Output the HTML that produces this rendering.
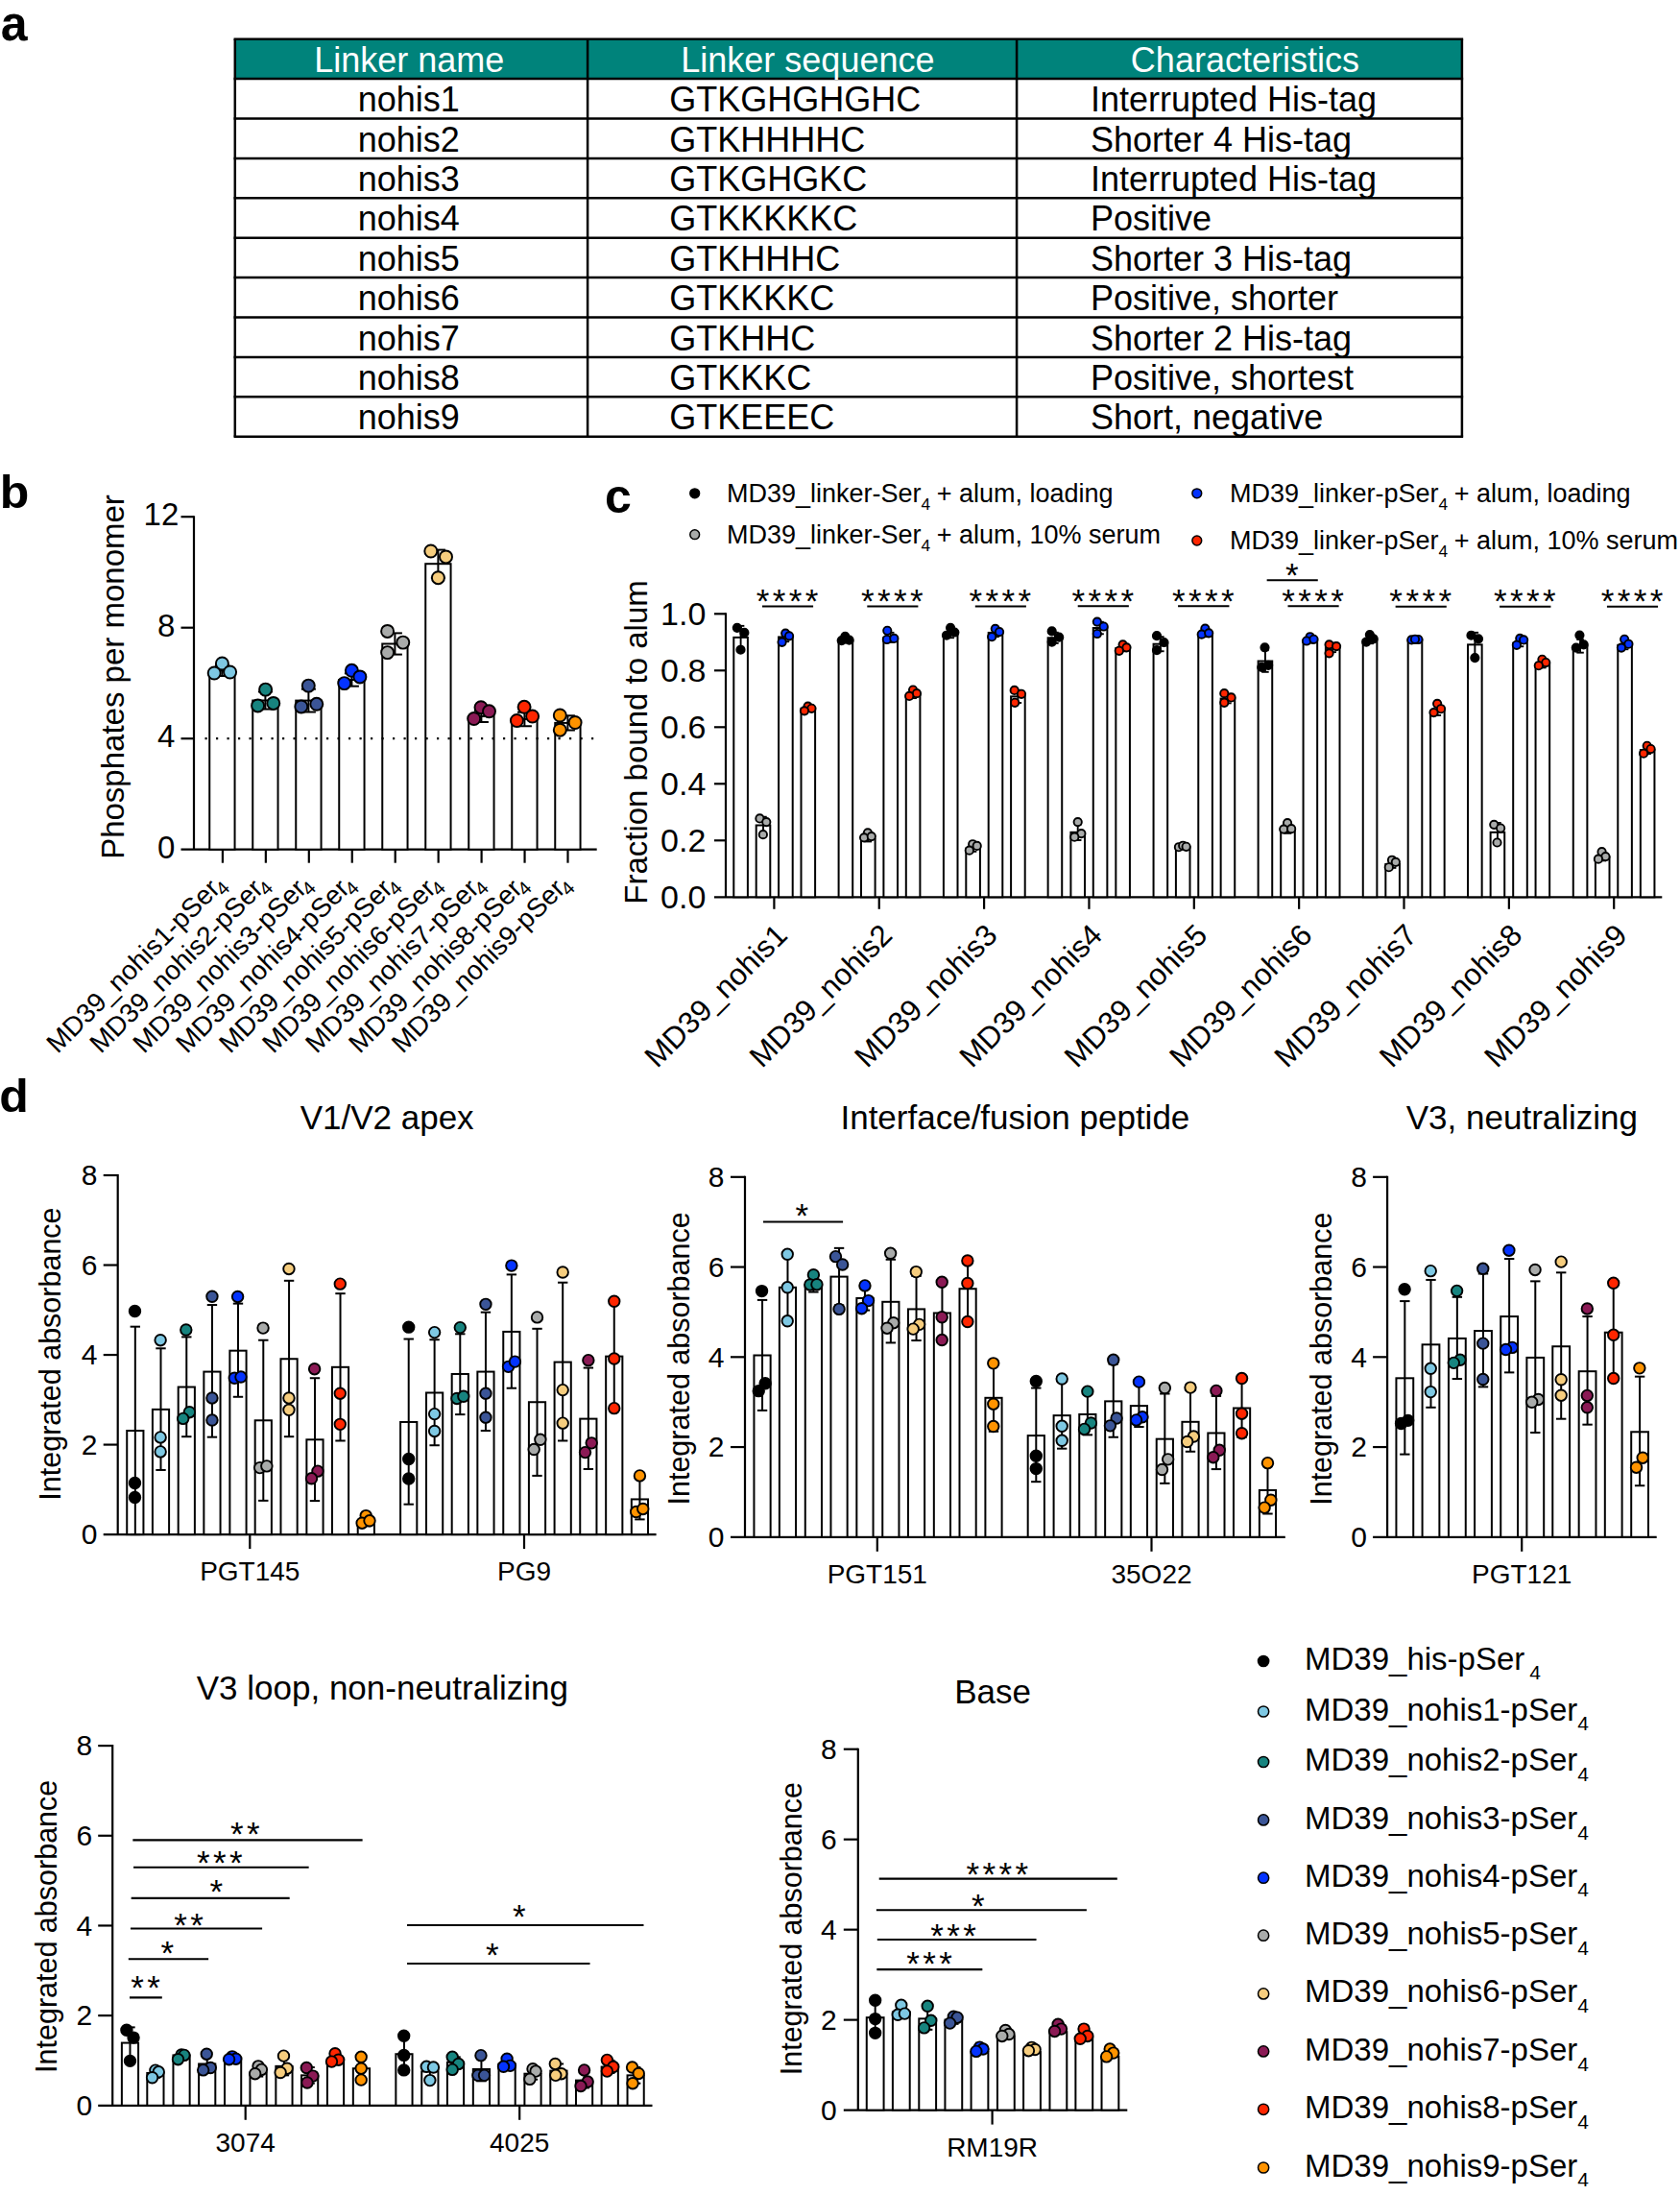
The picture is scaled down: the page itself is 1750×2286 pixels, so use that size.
<!DOCTYPE html>
<html><head><meta charset="utf-8"><title>Figure</title>
<style>
html,body{margin:0;padding:0;background:#fff;}
body{width:1750px;height:2286px;overflow:hidden;}
svg{display:block;font-family:"Liberation Sans", Arial, sans-serif;}

</style></head><body>
<svg width="1750" height="2286" viewBox="0 0 1750 2286" font-family='"Liberation Sans", Arial, sans-serif'>
<rect width="1750" height="2286" fill="#fff"/>
<text transform="translate(0.7 41.9) scale(1 1.02)" font-size="50" font-weight="bold">a</text>
<text transform="translate(-0.2 529.3) scale(1 0.945)" font-size="50" font-weight="bold">b</text>
<text transform="translate(630 533.7) scale(1 1.0)" font-size="50" font-weight="bold">c</text>
<text transform="translate(-0.8 1158) scale(1 0.96)" font-size="50" font-weight="bold">d</text>
<rect x="244.8" y="40.7" width="1278.1" height="41.4" fill="#00837B"/>
<line x1="243.55" y1="40.7" x2="1524.15" y2="40.7" stroke="#000" stroke-width="2.5" />
<line x1="243.55" y1="82.1" x2="1524.15" y2="82.1" stroke="#000" stroke-width="2.5" />
<line x1="243.55" y1="123.5" x2="1524.15" y2="123.5" stroke="#000" stroke-width="2.5" />
<line x1="243.55" y1="164.9" x2="1524.15" y2="164.9" stroke="#000" stroke-width="2.5" />
<line x1="243.55" y1="206.3" x2="1524.15" y2="206.3" stroke="#000" stroke-width="2.5" />
<line x1="243.55" y1="247.7" x2="1524.15" y2="247.7" stroke="#000" stroke-width="2.5" />
<line x1="243.55" y1="289.1" x2="1524.15" y2="289.1" stroke="#000" stroke-width="2.5" />
<line x1="243.55" y1="330.5" x2="1524.15" y2="330.5" stroke="#000" stroke-width="2.5" />
<line x1="243.55" y1="371.9" x2="1524.15" y2="371.9" stroke="#000" stroke-width="2.5" />
<line x1="243.55" y1="413.3" x2="1524.15" y2="413.3" stroke="#000" stroke-width="2.5" />
<line x1="243.55" y1="454.7" x2="1524.15" y2="454.7" stroke="#000" stroke-width="2.5" />
<line x1="244.8" y1="40.7" x2="244.8" y2="454.7" stroke="#000" stroke-width="2.5" />
<line x1="612.1" y1="40.7" x2="612.1" y2="454.7" stroke="#000" stroke-width="2.5" />
<line x1="1059.1" y1="40.7" x2="1059.1" y2="454.7" stroke="#000" stroke-width="2.5" />
<line x1="1522.9" y1="40.7" x2="1522.9" y2="454.7" stroke="#000" stroke-width="2.5" />
<text x="426.2" y="75.2" font-size="36" text-anchor="middle" fill="#fff">Linker name</text>
<text x="841.4" y="75.2" font-size="36" text-anchor="middle" fill="#fff">Linker sequence</text>
<text x="1296.9" y="75.2" font-size="36" text-anchor="middle" fill="#fff">Characteristics</text>
<text x="425.7" y="116.1" font-size="36" text-anchor="middle" >nohis1</text>
<text x="697.3" y="116.1" font-size="36" text-anchor="start" >GTKGHGHGHC</text>
<text x="1136" y="116.1" font-size="36" text-anchor="start" >Interrupted His-tag</text>
<text x="425.7" y="157.5" font-size="36" text-anchor="middle" >nohis2</text>
<text x="697.3" y="157.5" font-size="36" text-anchor="start" >GTKHHHHC</text>
<text x="1136" y="157.5" font-size="36" text-anchor="start" >Shorter 4 His-tag</text>
<text x="425.7" y="198.9" font-size="36" text-anchor="middle" >nohis3</text>
<text x="697.3" y="198.9" font-size="36" text-anchor="start" >GTKGHGKC</text>
<text x="1136" y="198.9" font-size="36" text-anchor="start" >Interrupted His-tag</text>
<text x="425.7" y="240.3" font-size="36" text-anchor="middle" >nohis4</text>
<text x="697.3" y="240.3" font-size="36" text-anchor="start" >GTKKKKKC</text>
<text x="1136" y="240.3" font-size="36" text-anchor="start" >Positive</text>
<text x="425.7" y="281.7" font-size="36" text-anchor="middle" >nohis5</text>
<text x="697.3" y="281.7" font-size="36" text-anchor="start" >GTKHHHC</text>
<text x="1136" y="281.7" font-size="36" text-anchor="start" >Shorter 3 His-tag</text>
<text x="425.7" y="323.1" font-size="36" text-anchor="middle" >nohis6</text>
<text x="697.3" y="323.1" font-size="36" text-anchor="start" >GTKKKKC</text>
<text x="1136" y="323.1" font-size="36" text-anchor="start" >Positive, shorter</text>
<text x="425.7" y="364.5" font-size="36" text-anchor="middle" >nohis7</text>
<text x="697.3" y="364.5" font-size="36" text-anchor="start" >GTKHHC</text>
<text x="1136" y="364.5" font-size="36" text-anchor="start" >Shorter 2 His-tag</text>
<text x="425.7" y="405.9" font-size="36" text-anchor="middle" >nohis8</text>
<text x="697.3" y="405.9" font-size="36" text-anchor="start" >GTKKKC</text>
<text x="1136" y="405.9" font-size="36" text-anchor="start" >Positive, shortest</text>
<text x="425.7" y="447.3" font-size="36" text-anchor="middle" >nohis9</text>
<text x="697.3" y="447.3" font-size="36" text-anchor="start" >GTKEEEC</text>
<text x="1136" y="447.3" font-size="36" text-anchor="start" >Short, negative</text>
<line x1="202" y1="537.2" x2="202" y2="884.7" stroke="#000" stroke-width="2.2" />
<line x1="188.5" y1="884.7" x2="621.7" y2="884.7" stroke="#000" stroke-width="2.2" />
<line x1="188.5" y1="769.2" x2="202" y2="769.2" stroke="#000" stroke-width="2.2" />
<line x1="188.5" y1="653.7" x2="202" y2="653.7" stroke="#000" stroke-width="2.2" />
<line x1="188.5" y1="538.2" x2="202" y2="538.2" stroke="#000" stroke-width="2.2" />
<text x="182.4" y="893.55" font-size="33" text-anchor="end" >0</text>
<text x="182.4" y="778.05" font-size="33" text-anchor="end" >4</text>
<text x="182.4" y="662.55" font-size="33" text-anchor="end" >8</text>
<text x="186.3" y="547.05" font-size="33" text-anchor="end" >12</text>
<text transform="translate(128.6 705) rotate(-90)" font-size="33" text-anchor="middle">Phosphates per monomer</text>
<rect x="218.25" y="698.5" width="26.3" height="186.2" fill="#fff" stroke="#000" stroke-width="2.0"/>
<rect x="263.25" y="729.5" width="26.3" height="155.2" fill="#fff" stroke="#000" stroke-width="2.0"/>
<rect x="308.25" y="729.6" width="26.3" height="155.1" fill="#fff" stroke="#000" stroke-width="2.0"/>
<rect x="353.25" y="708" width="26.3" height="176.7" fill="#fff" stroke="#000" stroke-width="2.0"/>
<rect x="398.25" y="670.5" width="26.3" height="214.2" fill="#fff" stroke="#000" stroke-width="2.0"/>
<rect x="443.25" y="587.2" width="26.3" height="297.5" fill="#fff" stroke="#000" stroke-width="2.0"/>
<rect x="488.25" y="746" width="26.3" height="138.7" fill="#fff" stroke="#000" stroke-width="2.0"/>
<rect x="533.25" y="749" width="26.3" height="135.7" fill="#fff" stroke="#000" stroke-width="2.0"/>
<rect x="578.25" y="752.9" width="26.3" height="131.8" fill="#fff" stroke="#000" stroke-width="2.0"/>
<line x1="231.4" y1="692.99" x2="231.4" y2="704.01" stroke="#000" stroke-width="2.0" />
<line x1="223.9" y1="692.99" x2="238.9" y2="692.99" stroke="#000" stroke-width="2.0" />
<line x1="223.9" y1="704.01" x2="238.9" y2="704.01" stroke="#000" stroke-width="2.0" />
<line x1="276.4" y1="720.44" x2="276.4" y2="738.56" stroke="#000" stroke-width="2.0" />
<line x1="268.9" y1="720.44" x2="283.9" y2="720.44" stroke="#000" stroke-width="2.0" />
<line x1="268.9" y1="738.56" x2="283.9" y2="738.56" stroke="#000" stroke-width="2.0" />
<line x1="321.4" y1="717.69" x2="321.4" y2="741.51" stroke="#000" stroke-width="2.0" />
<line x1="313.9" y1="717.69" x2="328.9" y2="717.69" stroke="#000" stroke-width="2.0" />
<line x1="313.9" y1="741.51" x2="328.9" y2="741.51" stroke="#000" stroke-width="2.0" />
<line x1="366.4" y1="701.35" x2="366.4" y2="714.65" stroke="#000" stroke-width="2.0" />
<line x1="358.9" y1="701.35" x2="373.9" y2="701.35" stroke="#000" stroke-width="2.0" />
<line x1="358.9" y1="714.65" x2="373.9" y2="714.65" stroke="#000" stroke-width="2.0" />
<line x1="411.4" y1="659.39" x2="411.4" y2="681.61" stroke="#000" stroke-width="2.0" />
<line x1="403.9" y1="659.39" x2="418.9" y2="659.39" stroke="#000" stroke-width="2.0" />
<line x1="403.9" y1="681.61" x2="418.9" y2="681.61" stroke="#000" stroke-width="2.0" />
<line x1="456.4" y1="572.61" x2="456.4" y2="601.79" stroke="#000" stroke-width="2.0" />
<line x1="448.9" y1="572.61" x2="463.9" y2="572.61" stroke="#000" stroke-width="2.0" />
<line x1="448.9" y1="601.79" x2="463.9" y2="601.79" stroke="#000" stroke-width="2.0" />
<line x1="501.4" y1="740.01" x2="501.4" y2="751.99" stroke="#000" stroke-width="2.0" />
<line x1="493.9" y1="740.01" x2="508.9" y2="740.01" stroke="#000" stroke-width="2.0" />
<line x1="493.9" y1="751.99" x2="508.9" y2="751.99" stroke="#000" stroke-width="2.0" />
<line x1="546.4" y1="741.74" x2="546.4" y2="756.26" stroke="#000" stroke-width="2.0" />
<line x1="538.9" y1="741.74" x2="553.9" y2="741.74" stroke="#000" stroke-width="2.0" />
<line x1="538.9" y1="756.26" x2="553.9" y2="756.26" stroke="#000" stroke-width="2.0" />
<line x1="591.4" y1="745.3" x2="591.4" y2="760.5" stroke="#000" stroke-width="2.0" />
<line x1="583.9" y1="745.3" x2="598.9" y2="745.3" stroke="#000" stroke-width="2.0" />
<line x1="583.9" y1="760.5" x2="598.9" y2="760.5" stroke="#000" stroke-width="2.0" />
<line x1="213.5" y1="769.2" x2="618.5" y2="769.2" stroke="#000" stroke-width="2.2" stroke-dasharray="2.2 9.3"/>
<circle cx="231.4" cy="691" r="6.5" fill="#7EC8E3" stroke="#000" stroke-width="1.95"/>
<circle cx="223.2" cy="701" r="6.5" fill="#7EC8E3" stroke="#000" stroke-width="1.95"/>
<circle cx="239.6" cy="700" r="6.5" fill="#7EC8E3" stroke="#000" stroke-width="1.95"/>
<circle cx="276.6" cy="718.1" r="6.5" fill="#17847F" stroke="#000" stroke-width="1.95"/>
<circle cx="268.6" cy="734.9" r="6.5" fill="#17847F" stroke="#000" stroke-width="1.95"/>
<circle cx="284.8" cy="732.4" r="6.5" fill="#17847F" stroke="#000" stroke-width="1.95"/>
<circle cx="321.3" cy="714.1" r="6.5" fill="#3B5597" stroke="#000" stroke-width="1.95"/>
<circle cx="313.8" cy="735.9" r="6.5" fill="#3B5597" stroke="#000" stroke-width="1.95"/>
<circle cx="329.8" cy="733.3" r="6.5" fill="#3B5597" stroke="#000" stroke-width="1.95"/>
<circle cx="366.4" cy="698.3" r="6.5" fill="#0433FF" stroke="#000" stroke-width="1.95"/>
<circle cx="374.9" cy="704.9" r="6.5" fill="#0433FF" stroke="#000" stroke-width="1.95"/>
<circle cx="358.7" cy="711.6" r="6.5" fill="#0433FF" stroke="#000" stroke-width="1.95"/>
<circle cx="403.6" cy="657.4" r="6.5" fill="#A9ABAA" stroke="#000" stroke-width="1.95"/>
<circle cx="419.8" cy="669.1" r="6.5" fill="#A9ABAA" stroke="#000" stroke-width="1.95"/>
<circle cx="403.6" cy="679.6" r="6.5" fill="#A9ABAA" stroke="#000" stroke-width="1.95"/>
<circle cx="448.8" cy="574" r="6.5" fill="#F6CD7E" stroke="#000" stroke-width="1.95"/>
<circle cx="464.5" cy="579.9" r="6.5" fill="#F6CD7E" stroke="#000" stroke-width="1.95"/>
<circle cx="456.4" cy="601.7" r="6.5" fill="#F6CD7E" stroke="#000" stroke-width="1.95"/>
<circle cx="501" cy="736.7" r="6.5" fill="#8B1A55" stroke="#000" stroke-width="1.95"/>
<circle cx="509.5" cy="740.8" r="6.5" fill="#8B1A55" stroke="#000" stroke-width="1.95"/>
<circle cx="493.7" cy="748.5" r="6.5" fill="#8B1A55" stroke="#000" stroke-width="1.95"/>
<circle cx="546.1" cy="736.3" r="6.5" fill="#FF2600" stroke="#000" stroke-width="1.95"/>
<circle cx="554.6" cy="746" r="6.5" fill="#FF2600" stroke="#000" stroke-width="1.95"/>
<circle cx="538.4" cy="750.5" r="6.5" fill="#FF2600" stroke="#000" stroke-width="1.95"/>
<circle cx="583.3" cy="745" r="6.5" fill="#FF9300" stroke="#000" stroke-width="1.95"/>
<circle cx="599.1" cy="752.5" r="6.5" fill="#FF9300" stroke="#000" stroke-width="1.95"/>
<circle cx="583.3" cy="760.2" r="6.5" fill="#FF9300" stroke="#000" stroke-width="1.95"/>
<line x1="231.9" y1="884.7" x2="231.9" y2="898.7" stroke="#000" stroke-width="2.2" />
<text transform="translate(236.2 921.8) rotate(-45)" font-size="28" text-anchor="end">MD39_nohis1-pSer<tspan dx="-3.2" dy="6.2" font-size="20">4</tspan></text>
<line x1="276.85" y1="884.7" x2="276.85" y2="898.7" stroke="#000" stroke-width="2.2" />
<text transform="translate(281.15 921.8) rotate(-45)" font-size="28" text-anchor="end">MD39_nohis2-pSer<tspan dx="-3.2" dy="6.2" font-size="20">4</tspan></text>
<line x1="321.8" y1="884.7" x2="321.8" y2="898.7" stroke="#000" stroke-width="2.2" />
<text transform="translate(326.1 921.8) rotate(-45)" font-size="28" text-anchor="end">MD39_nohis3-pSer<tspan dx="-3.2" dy="6.2" font-size="20">4</tspan></text>
<line x1="366.75" y1="884.7" x2="366.75" y2="898.7" stroke="#000" stroke-width="2.2" />
<text transform="translate(371.05 921.8) rotate(-45)" font-size="28" text-anchor="end">MD39_nohis4-pSer<tspan dx="-3.2" dy="6.2" font-size="20">4</tspan></text>
<line x1="411.7" y1="884.7" x2="411.7" y2="898.7" stroke="#000" stroke-width="2.2" />
<text transform="translate(416 921.8) rotate(-45)" font-size="28" text-anchor="end">MD39_nohis5-pSer<tspan dx="-3.2" dy="6.2" font-size="20">4</tspan></text>
<line x1="456.65" y1="884.7" x2="456.65" y2="898.7" stroke="#000" stroke-width="2.2" />
<text transform="translate(460.95 921.8) rotate(-45)" font-size="28" text-anchor="end">MD39_nohis6-pSer<tspan dx="-3.2" dy="6.2" font-size="20">4</tspan></text>
<line x1="501.6" y1="884.7" x2="501.6" y2="898.7" stroke="#000" stroke-width="2.2" />
<text transform="translate(505.9 921.8) rotate(-45)" font-size="28" text-anchor="end">MD39_nohis7-pSer<tspan dx="-3.2" dy="6.2" font-size="20">4</tspan></text>
<line x1="546.55" y1="884.7" x2="546.55" y2="898.7" stroke="#000" stroke-width="2.2" />
<text transform="translate(550.85 921.8) rotate(-45)" font-size="28" text-anchor="end">MD39_nohis8-pSer<tspan dx="-3.2" dy="6.2" font-size="20">4</tspan></text>
<line x1="591.5" y1="884.7" x2="591.5" y2="898.7" stroke="#000" stroke-width="2.2" />
<text transform="translate(595.8 921.8) rotate(-45)" font-size="28" text-anchor="end">MD39_nohis9-pSer<tspan dx="-3.2" dy="6.2" font-size="20">4</tspan></text>
<line x1="756" y1="638.3" x2="756" y2="934.3" stroke="#000" stroke-width="2.2" />
<line x1="744" y1="934.3" x2="1731.3" y2="934.3" stroke="#000" stroke-width="2.2" />
<line x1="744" y1="875.3" x2="756" y2="875.3" stroke="#000" stroke-width="2.2" />
<line x1="744" y1="816.3" x2="756" y2="816.3" stroke="#000" stroke-width="2.2" />
<line x1="744" y1="757.3" x2="756" y2="757.3" stroke="#000" stroke-width="2.2" />
<line x1="744" y1="698.3" x2="756" y2="698.3" stroke="#000" stroke-width="2.2" />
<line x1="744" y1="639.3" x2="756" y2="639.3" stroke="#000" stroke-width="2.2" />
<text x="735.3" y="946" font-size="34" text-anchor="end" >0.0</text>
<text x="735.3" y="887" font-size="34" text-anchor="end" >0.2</text>
<text x="735.3" y="828" font-size="34" text-anchor="end" >0.4</text>
<text x="735.3" y="769" font-size="34" text-anchor="end" >0.6</text>
<text x="735.3" y="710" font-size="34" text-anchor="end" >0.8</text>
<text x="735.3" y="651" font-size="34" text-anchor="end" >1.0</text>
<text transform="translate(673.8 773) rotate(-90)" font-size="33" text-anchor="middle">Fraction bound to alum</text>
<rect x="764.3" y="663.87" width="14.6" height="270.43" fill="#fff" stroke="#000" stroke-width="2.0"/>
<rect x="787.7" y="859.51" width="14.6" height="74.79" fill="#fff" stroke="#000" stroke-width="2.0"/>
<rect x="811.1" y="663.44" width="14.6" height="270.86" fill="#fff" stroke="#000" stroke-width="2.0"/>
<rect x="834.5" y="737.8" width="14.6" height="196.5" fill="#fff" stroke="#000" stroke-width="2.0"/>
<rect x="873.6" y="667.09" width="14.6" height="267.21" fill="#fff" stroke="#000" stroke-width="2.0"/>
<rect x="897" y="873.87" width="14.6" height="60.43" fill="#fff" stroke="#000" stroke-width="2.0"/>
<rect x="920.4" y="663.87" width="14.6" height="270.43" fill="#fff" stroke="#000" stroke-width="2.0"/>
<rect x="943.8" y="723.87" width="14.6" height="210.43" fill="#fff" stroke="#000" stroke-width="2.0"/>
<rect x="982.9" y="660.23" width="14.6" height="274.07" fill="#fff" stroke="#000" stroke-width="2.0"/>
<rect x="1006.3" y="883.51" width="14.6" height="50.79" fill="#fff" stroke="#000" stroke-width="2.0"/>
<rect x="1029.7" y="658.94" width="14.6" height="275.36" fill="#fff" stroke="#000" stroke-width="2.0"/>
<rect x="1053.1" y="725.37" width="14.6" height="208.93" fill="#fff" stroke="#000" stroke-width="2.0"/>
<rect x="1091.63" y="664.3" width="14.6" height="270" fill="#fff" stroke="#000" stroke-width="2.0"/>
<rect x="1115.41" y="866.8" width="14.6" height="67.5" fill="#fff" stroke="#000" stroke-width="2.0"/>
<rect x="1138.77" y="654.02" width="14.6" height="280.28" fill="#fff" stroke="#000" stroke-width="2.0"/>
<rect x="1162.34" y="675.02" width="14.6" height="259.28" fill="#fff" stroke="#000" stroke-width="2.0"/>
<rect x="1201.56" y="670.73" width="14.6" height="263.57" fill="#fff" stroke="#000" stroke-width="2.0"/>
<rect x="1224.91" y="882.23" width="14.6" height="52.07" fill="#fff" stroke="#000" stroke-width="2.0"/>
<rect x="1248.27" y="660.02" width="14.6" height="274.28" fill="#fff" stroke="#000" stroke-width="2.0"/>
<rect x="1271.63" y="727.52" width="14.6" height="206.78" fill="#fff" stroke="#000" stroke-width="2.0"/>
<rect x="1310.63" y="688.52" width="14.6" height="245.78" fill="#fff" stroke="#000" stroke-width="2.0"/>
<rect x="1334.2" y="864.23" width="14.6" height="70.07" fill="#fff" stroke="#000" stroke-width="2.0"/>
<rect x="1357.56" y="667.52" width="14.6" height="266.78" fill="#fff" stroke="#000" stroke-width="2.0"/>
<rect x="1380.91" y="674.37" width="14.6" height="259.93" fill="#fff" stroke="#000" stroke-width="2.0"/>
<rect x="1419.77" y="666.44" width="14.6" height="267.86" fill="#fff" stroke="#000" stroke-width="2.0"/>
<rect x="1443.34" y="900.01" width="14.6" height="34.29" fill="#fff" stroke="#000" stroke-width="2.0"/>
<rect x="1466.7" y="666.44" width="14.6" height="267.86" fill="#fff" stroke="#000" stroke-width="2.0"/>
<rect x="1490.06" y="740.37" width="14.6" height="193.93" fill="#fff" stroke="#000" stroke-width="2.0"/>
<rect x="1529.06" y="671.37" width="14.6" height="262.93" fill="#fff" stroke="#000" stroke-width="2.0"/>
<rect x="1552.63" y="866.8" width="14.6" height="67.5" fill="#fff" stroke="#000" stroke-width="2.0"/>
<rect x="1576.2" y="669.66" width="14.6" height="264.64" fill="#fff" stroke="#000" stroke-width="2.0"/>
<rect x="1599.56" y="692.16" width="14.6" height="242.14" fill="#fff" stroke="#000" stroke-width="2.0"/>
<rect x="1638.77" y="672.87" width="14.6" height="261.43" fill="#fff" stroke="#000" stroke-width="2.0"/>
<rect x="1661.91" y="892.51" width="14.6" height="41.79" fill="#fff" stroke="#000" stroke-width="2.0"/>
<rect x="1685.27" y="671.8" width="14.6" height="262.5" fill="#fff" stroke="#000" stroke-width="2.0"/>
<rect x="1708.84" y="781.09" width="14.6" height="153.21" fill="#fff" stroke="#000" stroke-width="2.0"/>
<line x1="771.6" y1="651.84" x2="771.6" y2="675.9" stroke="#000" stroke-width="1.9" />
<line x1="767.85" y1="651.84" x2="775.35" y2="651.84" stroke="#000" stroke-width="1.9" />
<line x1="767.85" y1="675.9" x2="775.35" y2="675.9" stroke="#000" stroke-width="1.9" />
<line x1="795" y1="850.73" x2="795" y2="868.3" stroke="#000" stroke-width="1.9" />
<line x1="791.25" y1="850.73" x2="798.75" y2="850.73" stroke="#000" stroke-width="1.9" />
<line x1="791.25" y1="868.3" x2="798.75" y2="868.3" stroke="#000" stroke-width="1.9" />
<line x1="818.4" y1="658.72" x2="818.4" y2="668.17" stroke="#000" stroke-width="1.9" />
<line x1="814.65" y1="658.72" x2="822.15" y2="658.72" stroke="#000" stroke-width="1.9" />
<line x1="814.65" y1="668.17" x2="822.15" y2="668.17" stroke="#000" stroke-width="1.9" />
<line x1="841.8" y1="735.44" x2="841.8" y2="740.16" stroke="#000" stroke-width="1.9" />
<line x1="838.05" y1="735.44" x2="845.55" y2="735.44" stroke="#000" stroke-width="1.9" />
<line x1="838.05" y1="740.16" x2="845.55" y2="740.16" stroke="#000" stroke-width="1.9" />
<line x1="880.9" y1="664.73" x2="880.9" y2="669.45" stroke="#000" stroke-width="1.9" />
<line x1="877.15" y1="664.73" x2="884.65" y2="664.73" stroke="#000" stroke-width="1.9" />
<line x1="877.15" y1="669.45" x2="884.65" y2="669.45" stroke="#000" stroke-width="1.9" />
<line x1="904.3" y1="871.32" x2="904.3" y2="876.43" stroke="#000" stroke-width="1.9" />
<line x1="900.55" y1="871.32" x2="908.05" y2="871.32" stroke="#000" stroke-width="1.9" />
<line x1="900.55" y1="876.43" x2="908.05" y2="876.43" stroke="#000" stroke-width="1.9" />
<line x1="927.7" y1="658.83" x2="927.7" y2="668.91" stroke="#000" stroke-width="1.9" />
<line x1="923.95" y1="658.83" x2="931.45" y2="658.83" stroke="#000" stroke-width="1.9" />
<line x1="923.95" y1="668.91" x2="931.45" y2="668.91" stroke="#000" stroke-width="1.9" />
<line x1="951.1" y1="720.65" x2="951.1" y2="727.1" stroke="#000" stroke-width="1.9" />
<line x1="947.35" y1="720.65" x2="954.85" y2="720.65" stroke="#000" stroke-width="1.9" />
<line x1="947.35" y1="727.1" x2="954.85" y2="727.1" stroke="#000" stroke-width="1.9" />
<line x1="990.2" y1="656.24" x2="990.2" y2="664.22" stroke="#000" stroke-width="1.9" />
<line x1="986.45" y1="656.24" x2="993.95" y2="656.24" stroke="#000" stroke-width="1.9" />
<line x1="986.45" y1="664.22" x2="993.95" y2="664.22" stroke="#000" stroke-width="1.9" />
<line x1="1013.6" y1="880.19" x2="1013.6" y2="886.84" stroke="#000" stroke-width="1.9" />
<line x1="1009.85" y1="880.19" x2="1017.35" y2="880.19" stroke="#000" stroke-width="1.9" />
<line x1="1009.85" y1="886.84" x2="1017.35" y2="886.84" stroke="#000" stroke-width="1.9" />
<line x1="1037" y1="654.73" x2="1037" y2="663.16" stroke="#000" stroke-width="1.9" />
<line x1="1033.25" y1="654.73" x2="1040.75" y2="654.73" stroke="#000" stroke-width="1.9" />
<line x1="1033.25" y1="663.16" x2="1040.75" y2="663.16" stroke="#000" stroke-width="1.9" />
<line x1="1060.4" y1="718.78" x2="1060.4" y2="731.97" stroke="#000" stroke-width="1.9" />
<line x1="1056.65" y1="718.78" x2="1064.15" y2="718.78" stroke="#000" stroke-width="1.9" />
<line x1="1056.65" y1="731.97" x2="1064.15" y2="731.97" stroke="#000" stroke-width="1.9" />
<line x1="1098.93" y1="658.72" x2="1098.93" y2="669.89" stroke="#000" stroke-width="1.9" />
<line x1="1095.18" y1="658.72" x2="1102.68" y2="658.72" stroke="#000" stroke-width="1.9" />
<line x1="1095.18" y1="669.89" x2="1102.68" y2="669.89" stroke="#000" stroke-width="1.9" />
<line x1="1122.71" y1="858.62" x2="1122.71" y2="874.99" stroke="#000" stroke-width="1.9" />
<line x1="1118.96" y1="858.62" x2="1126.46" y2="858.62" stroke="#000" stroke-width="1.9" />
<line x1="1118.96" y1="874.99" x2="1126.46" y2="874.99" stroke="#000" stroke-width="1.9" />
<line x1="1146.07" y1="647.76" x2="1146.07" y2="660.27" stroke="#000" stroke-width="1.9" />
<line x1="1142.32" y1="647.76" x2="1149.82" y2="647.76" stroke="#000" stroke-width="1.9" />
<line x1="1142.32" y1="660.27" x2="1149.82" y2="660.27" stroke="#000" stroke-width="1.9" />
<line x1="1169.64" y1="671.8" x2="1169.64" y2="678.23" stroke="#000" stroke-width="1.9" />
<line x1="1165.89" y1="671.8" x2="1173.39" y2="671.8" stroke="#000" stroke-width="1.9" />
<line x1="1165.89" y1="678.23" x2="1173.39" y2="678.23" stroke="#000" stroke-width="1.9" />
<line x1="1208.86" y1="663.22" x2="1208.86" y2="678.24" stroke="#000" stroke-width="1.9" />
<line x1="1205.11" y1="663.22" x2="1212.61" y2="663.22" stroke="#000" stroke-width="1.9" />
<line x1="1205.11" y1="678.24" x2="1212.61" y2="678.24" stroke="#000" stroke-width="1.9" />
<line x1="1232.21" y1="881.46" x2="1232.21" y2="883" stroke="#000" stroke-width="1.9" />
<line x1="1228.46" y1="881.46" x2="1235.96" y2="881.46" stroke="#000" stroke-width="1.9" />
<line x1="1228.46" y1="883" x2="1235.96" y2="883" stroke="#000" stroke-width="1.9" />
<line x1="1255.57" y1="656.86" x2="1255.57" y2="663.18" stroke="#000" stroke-width="1.9" />
<line x1="1251.82" y1="656.86" x2="1259.32" y2="656.86" stroke="#000" stroke-width="1.9" />
<line x1="1251.82" y1="663.18" x2="1259.32" y2="663.18" stroke="#000" stroke-width="1.9" />
<line x1="1278.93" y1="722.68" x2="1278.93" y2="732.35" stroke="#000" stroke-width="1.9" />
<line x1="1275.18" y1="722.68" x2="1282.68" y2="722.68" stroke="#000" stroke-width="1.9" />
<line x1="1275.18" y1="732.35" x2="1282.68" y2="732.35" stroke="#000" stroke-width="1.9" />
<line x1="1317.93" y1="677.21" x2="1317.93" y2="699.83" stroke="#000" stroke-width="1.9" />
<line x1="1314.18" y1="677.21" x2="1321.68" y2="677.21" stroke="#000" stroke-width="1.9" />
<line x1="1314.18" y1="699.83" x2="1321.68" y2="699.83" stroke="#000" stroke-width="1.9" />
<line x1="1341.5" y1="860.63" x2="1341.5" y2="867.82" stroke="#000" stroke-width="1.9" />
<line x1="1337.75" y1="860.63" x2="1345.25" y2="860.63" stroke="#000" stroke-width="1.9" />
<line x1="1337.75" y1="867.82" x2="1345.25" y2="867.82" stroke="#000" stroke-width="1.9" />
<line x1="1364.86" y1="665.36" x2="1364.86" y2="669.67" stroke="#000" stroke-width="1.9" />
<line x1="1361.11" y1="665.36" x2="1368.61" y2="665.36" stroke="#000" stroke-width="1.9" />
<line x1="1361.11" y1="669.67" x2="1368.61" y2="669.67" stroke="#000" stroke-width="1.9" />
<line x1="1388.21" y1="669.59" x2="1388.21" y2="679.15" stroke="#000" stroke-width="1.9" />
<line x1="1384.46" y1="669.59" x2="1391.96" y2="669.59" stroke="#000" stroke-width="1.9" />
<line x1="1384.46" y1="679.15" x2="1391.96" y2="679.15" stroke="#000" stroke-width="1.9" />
<line x1="1427.07" y1="662.68" x2="1427.07" y2="670.21" stroke="#000" stroke-width="1.9" />
<line x1="1423.32" y1="662.68" x2="1430.82" y2="662.68" stroke="#000" stroke-width="1.9" />
<line x1="1423.32" y1="670.21" x2="1430.82" y2="670.21" stroke="#000" stroke-width="1.9" />
<line x1="1450.64" y1="896.15" x2="1450.64" y2="903.88" stroke="#000" stroke-width="1.9" />
<line x1="1446.89" y1="896.15" x2="1454.39" y2="896.15" stroke="#000" stroke-width="1.9" />
<line x1="1446.89" y1="903.88" x2="1454.39" y2="903.88" stroke="#000" stroke-width="1.9" />
<line x1="1474" y1="666.12" x2="1474" y2="666.77" stroke="#000" stroke-width="1.9" />
<line x1="1470.25" y1="666.12" x2="1477.75" y2="666.12" stroke="#000" stroke-width="1.9" />
<line x1="1470.25" y1="666.77" x2="1477.75" y2="666.77" stroke="#000" stroke-width="1.9" />
<line x1="1497.36" y1="735.75" x2="1497.36" y2="745" stroke="#000" stroke-width="1.9" />
<line x1="1493.61" y1="735.75" x2="1501.11" y2="735.75" stroke="#000" stroke-width="1.9" />
<line x1="1493.61" y1="745" x2="1501.11" y2="745" stroke="#000" stroke-width="1.9" />
<line x1="1536.36" y1="658.81" x2="1536.36" y2="683.94" stroke="#000" stroke-width="1.9" />
<line x1="1532.61" y1="658.81" x2="1540.11" y2="658.81" stroke="#000" stroke-width="1.9" />
<line x1="1532.61" y1="683.94" x2="1540.11" y2="683.94" stroke="#000" stroke-width="1.9" />
<line x1="1559.93" y1="856.92" x2="1559.93" y2="876.68" stroke="#000" stroke-width="1.9" />
<line x1="1556.18" y1="856.92" x2="1563.68" y2="856.92" stroke="#000" stroke-width="1.9" />
<line x1="1556.18" y1="876.68" x2="1563.68" y2="876.68" stroke="#000" stroke-width="1.9" />
<line x1="1583.5" y1="666.05" x2="1583.5" y2="673.26" stroke="#000" stroke-width="1.9" />
<line x1="1579.75" y1="666.05" x2="1587.25" y2="666.05" stroke="#000" stroke-width="1.9" />
<line x1="1579.75" y1="673.26" x2="1587.25" y2="673.26" stroke="#000" stroke-width="1.9" />
<line x1="1606.86" y1="688.94" x2="1606.86" y2="695.37" stroke="#000" stroke-width="1.9" />
<line x1="1603.11" y1="688.94" x2="1610.61" y2="688.94" stroke="#000" stroke-width="1.9" />
<line x1="1603.11" y1="695.37" x2="1610.61" y2="695.37" stroke="#000" stroke-width="1.9" />
<line x1="1646.07" y1="666.06" x2="1646.07" y2="679.68" stroke="#000" stroke-width="1.9" />
<line x1="1642.32" y1="666.06" x2="1649.82" y2="666.06" stroke="#000" stroke-width="1.9" />
<line x1="1642.32" y1="679.68" x2="1649.82" y2="679.68" stroke="#000" stroke-width="1.9" />
<line x1="1669.21" y1="888.7" x2="1669.21" y2="896.33" stroke="#000" stroke-width="1.9" />
<line x1="1665.46" y1="888.7" x2="1672.96" y2="888.7" stroke="#000" stroke-width="1.9" />
<line x1="1665.46" y1="896.33" x2="1672.96" y2="896.33" stroke="#000" stroke-width="1.9" />
<line x1="1692.57" y1="667.4" x2="1692.57" y2="676.21" stroke="#000" stroke-width="1.9" />
<line x1="1688.82" y1="667.4" x2="1696.32" y2="667.4" stroke="#000" stroke-width="1.9" />
<line x1="1688.82" y1="676.21" x2="1696.32" y2="676.21" stroke="#000" stroke-width="1.9" />
<line x1="1716.14" y1="777.1" x2="1716.14" y2="785.07" stroke="#000" stroke-width="1.9" />
<line x1="1712.39" y1="777.1" x2="1719.89" y2="777.1" stroke="#000" stroke-width="1.9" />
<line x1="1712.39" y1="785.07" x2="1719.89" y2="785.07" stroke="#000" stroke-width="1.9" />
<circle cx="767.86" cy="653.8" r="4.15" fill="#000000" stroke="#000" stroke-width="1.9"/>
<circle cx="775.36" cy="658.94" r="4.15" fill="#000000" stroke="#000" stroke-width="1.9"/>
<circle cx="771.5" cy="676.73" r="4.15" fill="#000000" stroke="#000" stroke-width="1.9"/>
<circle cx="791.43" cy="852.44" r="4.15" fill="#A9ABAA" stroke="#000" stroke-width="1.9"/>
<circle cx="798.29" cy="856.09" r="4.15" fill="#A9ABAA" stroke="#000" stroke-width="1.9"/>
<circle cx="794.86" cy="869.16" r="4.15" fill="#A9ABAA" stroke="#000" stroke-width="1.9"/>
<circle cx="818.21" cy="659.59" r="4.15" fill="#0433FF" stroke="#000" stroke-width="1.9"/>
<circle cx="822.07" cy="662.37" r="4.15" fill="#0433FF" stroke="#000" stroke-width="1.9"/>
<circle cx="814.57" cy="668.8" r="4.15" fill="#0433FF" stroke="#000" stroke-width="1.9"/>
<circle cx="841.57" cy="735.66" r="4.15" fill="#FF2600" stroke="#000" stroke-width="1.9"/>
<circle cx="845.43" cy="737.8" r="4.15" fill="#FF2600" stroke="#000" stroke-width="1.9"/>
<circle cx="837.93" cy="740.37" r="4.15" fill="#FF2600" stroke="#000" stroke-width="1.9"/>
<circle cx="880.36" cy="662.8" r="4.15" fill="#000000" stroke="#000" stroke-width="1.9"/>
<circle cx="876.71" cy="667.09" r="4.15" fill="#000000" stroke="#000" stroke-width="1.9"/>
<circle cx="884.64" cy="666.66" r="4.15" fill="#000000" stroke="#000" stroke-width="1.9"/>
<circle cx="903.93" cy="867.44" r="4.15" fill="#A9ABAA" stroke="#000" stroke-width="1.9"/>
<circle cx="900.07" cy="872.37" r="4.15" fill="#A9ABAA" stroke="#000" stroke-width="1.9"/>
<circle cx="907.78" cy="871.09" r="4.15" fill="#A9ABAA" stroke="#000" stroke-width="1.9"/>
<circle cx="924.28" cy="656.8" r="4.15" fill="#0433FF" stroke="#000" stroke-width="1.9"/>
<circle cx="923.86" cy="666.02" r="4.15" fill="#0433FF" stroke="#000" stroke-width="1.9"/>
<circle cx="931.36" cy="664.94" r="4.15" fill="#0433FF" stroke="#000" stroke-width="1.9"/>
<circle cx="951.07" cy="718.52" r="4.15" fill="#FF2600" stroke="#000" stroke-width="1.9"/>
<circle cx="954.93" cy="722.16" r="4.15" fill="#FF2600" stroke="#000" stroke-width="1.9"/>
<circle cx="947.21" cy="724.94" r="4.15" fill="#FF2600" stroke="#000" stroke-width="1.9"/>
<circle cx="990.07" cy="653.8" r="4.15" fill="#000000" stroke="#000" stroke-width="1.9"/>
<circle cx="986" cy="661.73" r="4.15" fill="#000000" stroke="#000" stroke-width="1.9"/>
<circle cx="994.36" cy="658.52" r="4.15" fill="#000000" stroke="#000" stroke-width="1.9"/>
<circle cx="1013.21" cy="879.23" r="4.15" fill="#A9ABAA" stroke="#000" stroke-width="1.9"/>
<circle cx="1017.71" cy="880.94" r="4.15" fill="#A9ABAA" stroke="#000" stroke-width="1.9"/>
<circle cx="1009.78" cy="885.66" r="4.15" fill="#A9ABAA" stroke="#000" stroke-width="1.9"/>
<circle cx="1036.78" cy="654.87" r="4.15" fill="#0433FF" stroke="#000" stroke-width="1.9"/>
<circle cx="1041.07" cy="658.09" r="4.15" fill="#0433FF" stroke="#000" stroke-width="1.9"/>
<circle cx="1033.14" cy="663.23" r="4.15" fill="#0433FF" stroke="#000" stroke-width="1.9"/>
<circle cx="1056.71" cy="718.94" r="4.15" fill="#FF2600" stroke="#000" stroke-width="1.9"/>
<circle cx="1064" cy="722.8" r="4.15" fill="#FF2600" stroke="#000" stroke-width="1.9"/>
<circle cx="1057.14" cy="731.8" r="4.15" fill="#FF2600" stroke="#000" stroke-width="1.9"/>
<circle cx="1095.71" cy="657.44" r="4.15" fill="#000000" stroke="#000" stroke-width="1.9"/>
<circle cx="1103.21" cy="663.66" r="4.15" fill="#000000" stroke="#000" stroke-width="1.9"/>
<circle cx="1095.71" cy="668.59" r="4.15" fill="#000000" stroke="#000" stroke-width="1.9"/>
<circle cx="1122.71" cy="856.09" r="4.15" fill="#A9ABAA" stroke="#000" stroke-width="1.9"/>
<circle cx="1126.36" cy="868.09" r="4.15" fill="#A9ABAA" stroke="#000" stroke-width="1.9"/>
<circle cx="1119.29" cy="871.73" r="4.15" fill="#A9ABAA" stroke="#000" stroke-width="1.9"/>
<circle cx="1142.86" cy="647.59" r="4.15" fill="#0433FF" stroke="#000" stroke-width="1.9"/>
<circle cx="1149.71" cy="652.52" r="4.15" fill="#0433FF" stroke="#000" stroke-width="1.9"/>
<circle cx="1142.86" cy="660.02" r="4.15" fill="#0433FF" stroke="#000" stroke-width="1.9"/>
<circle cx="1169.64" cy="671.37" r="4.15" fill="#FF2600" stroke="#000" stroke-width="1.9"/>
<circle cx="1173.5" cy="674.37" r="4.15" fill="#FF2600" stroke="#000" stroke-width="1.9"/>
<circle cx="1165.79" cy="677.8" r="4.15" fill="#FF2600" stroke="#000" stroke-width="1.9"/>
<circle cx="1205" cy="662.16" r="4.15" fill="#000000" stroke="#000" stroke-width="1.9"/>
<circle cx="1212.5" cy="669.02" r="4.15" fill="#000000" stroke="#000" stroke-width="1.9"/>
<circle cx="1205" cy="677.16" r="4.15" fill="#000000" stroke="#000" stroke-width="1.9"/>
<circle cx="1227.93" cy="882.23" r="4.15" fill="#A9ABAA" stroke="#000" stroke-width="1.9"/>
<circle cx="1232.21" cy="880.73" r="4.15" fill="#A9ABAA" stroke="#000" stroke-width="1.9"/>
<circle cx="1235.64" cy="881.8" r="4.15" fill="#A9ABAA" stroke="#000" stroke-width="1.9"/>
<circle cx="1255.36" cy="654.66" r="4.15" fill="#0433FF" stroke="#000" stroke-width="1.9"/>
<circle cx="1251.71" cy="660.66" r="4.15" fill="#0433FF" stroke="#000" stroke-width="1.9"/>
<circle cx="1259.21" cy="659.37" r="4.15" fill="#0433FF" stroke="#000" stroke-width="1.9"/>
<circle cx="1275.28" cy="722.16" r="4.15" fill="#FF2600" stroke="#000" stroke-width="1.9"/>
<circle cx="1282.57" cy="726.44" r="4.15" fill="#FF2600" stroke="#000" stroke-width="1.9"/>
<circle cx="1275.28" cy="731.8" r="4.15" fill="#FF2600" stroke="#000" stroke-width="1.9"/>
<circle cx="1317.5" cy="674.37" r="4.15" fill="#000000" stroke="#000" stroke-width="1.9"/>
<circle cx="1314.28" cy="694.94" r="4.15" fill="#000000" stroke="#000" stroke-width="1.9"/>
<circle cx="1321.14" cy="692.8" r="4.15" fill="#000000" stroke="#000" stroke-width="1.9"/>
<circle cx="1341.07" cy="857.16" r="4.15" fill="#A9ABAA" stroke="#000" stroke-width="1.9"/>
<circle cx="1337.21" cy="863.59" r="4.15" fill="#A9ABAA" stroke="#000" stroke-width="1.9"/>
<circle cx="1345.14" cy="863.16" r="4.15" fill="#A9ABAA" stroke="#000" stroke-width="1.9"/>
<circle cx="1364.64" cy="663.23" r="4.15" fill="#0433FF" stroke="#000" stroke-width="1.9"/>
<circle cx="1361" cy="667.52" r="4.15" fill="#0433FF" stroke="#000" stroke-width="1.9"/>
<circle cx="1368.5" cy="665.8" r="4.15" fill="#0433FF" stroke="#000" stroke-width="1.9"/>
<circle cx="1384.57" cy="671.37" r="4.15" fill="#FF2600" stroke="#000" stroke-width="1.9"/>
<circle cx="1392.07" cy="673.09" r="4.15" fill="#FF2600" stroke="#000" stroke-width="1.9"/>
<circle cx="1384.57" cy="680.37" r="4.15" fill="#FF2600" stroke="#000" stroke-width="1.9"/>
<circle cx="1426.86" cy="661.09" r="4.15" fill="#000000" stroke="#000" stroke-width="1.9"/>
<circle cx="1423.21" cy="668.59" r="4.15" fill="#000000" stroke="#000" stroke-width="1.9"/>
<circle cx="1430.71" cy="665.37" r="4.15" fill="#000000" stroke="#000" stroke-width="1.9"/>
<circle cx="1450" cy="895.73" r="4.15" fill="#A9ABAA" stroke="#000" stroke-width="1.9"/>
<circle cx="1453.86" cy="897.87" r="4.15" fill="#A9ABAA" stroke="#000" stroke-width="1.9"/>
<circle cx="1446.79" cy="903.23" r="4.15" fill="#A9ABAA" stroke="#000" stroke-width="1.9"/>
<circle cx="1470.36" cy="666.44" r="4.15" fill="#0433FF" stroke="#000" stroke-width="1.9"/>
<circle cx="1477.43" cy="666.02" r="4.15" fill="#0433FF" stroke="#000" stroke-width="1.9"/>
<circle cx="1474" cy="665.8" r="4.15" fill="#0433FF" stroke="#000" stroke-width="1.9"/>
<circle cx="1497.14" cy="732.87" r="4.15" fill="#FF2600" stroke="#000" stroke-width="1.9"/>
<circle cx="1501" cy="738.23" r="4.15" fill="#FF2600" stroke="#000" stroke-width="1.9"/>
<circle cx="1493.5" cy="742.09" r="4.15" fill="#FF2600" stroke="#000" stroke-width="1.9"/>
<circle cx="1532.5" cy="661.73" r="4.15" fill="#000000" stroke="#000" stroke-width="1.9"/>
<circle cx="1540" cy="665.37" r="4.15" fill="#000000" stroke="#000" stroke-width="1.9"/>
<circle cx="1536.36" cy="685.09" r="4.15" fill="#000000" stroke="#000" stroke-width="1.9"/>
<circle cx="1556.28" cy="858.87" r="4.15" fill="#A9ABAA" stroke="#000" stroke-width="1.9"/>
<circle cx="1563.14" cy="862.51" r="4.15" fill="#A9ABAA" stroke="#000" stroke-width="1.9"/>
<circle cx="1559.5" cy="877.51" r="4.15" fill="#A9ABAA" stroke="#000" stroke-width="1.9"/>
<circle cx="1583.28" cy="664.94" r="4.15" fill="#0433FF" stroke="#000" stroke-width="1.9"/>
<circle cx="1587.14" cy="666.44" r="4.15" fill="#0433FF" stroke="#000" stroke-width="1.9"/>
<circle cx="1579.86" cy="671.8" r="4.15" fill="#0433FF" stroke="#000" stroke-width="1.9"/>
<circle cx="1606.43" cy="686.8" r="4.15" fill="#FF2600" stroke="#000" stroke-width="1.9"/>
<circle cx="1610.28" cy="690.02" r="4.15" fill="#FF2600" stroke="#000" stroke-width="1.9"/>
<circle cx="1602.78" cy="693.23" r="4.15" fill="#FF2600" stroke="#000" stroke-width="1.9"/>
<circle cx="1645.43" cy="661.52" r="4.15" fill="#000000" stroke="#000" stroke-width="1.9"/>
<circle cx="1649.71" cy="671.37" r="4.15" fill="#000000" stroke="#000" stroke-width="1.9"/>
<circle cx="1641.78" cy="674.59" r="4.15" fill="#000000" stroke="#000" stroke-width="1.9"/>
<circle cx="1668.57" cy="887.16" r="4.15" fill="#A9ABAA" stroke="#000" stroke-width="1.9"/>
<circle cx="1672.43" cy="892.09" r="4.15" fill="#A9ABAA" stroke="#000" stroke-width="1.9"/>
<circle cx="1664.93" cy="894.66" r="4.15" fill="#A9ABAA" stroke="#000" stroke-width="1.9"/>
<circle cx="1692.14" cy="665.8" r="4.15" fill="#0433FF" stroke="#000" stroke-width="1.9"/>
<circle cx="1696.43" cy="670.73" r="4.15" fill="#0433FF" stroke="#000" stroke-width="1.9"/>
<circle cx="1688.93" cy="674.59" r="4.15" fill="#0433FF" stroke="#000" stroke-width="1.9"/>
<circle cx="1715.71" cy="776.8" r="4.15" fill="#FF2600" stroke="#000" stroke-width="1.9"/>
<circle cx="1719.57" cy="780.02" r="4.15" fill="#FF2600" stroke="#000" stroke-width="1.9"/>
<circle cx="1712.07" cy="784.73" r="4.15" fill="#FF2600" stroke="#000" stroke-width="1.9"/>
<line x1="1122.71" y1="631.36" x2="1175.86" y2="631.36" stroke="#000" stroke-width="2.0" />
<text x="1150.49" y="637.96" font-size="35" text-anchor="middle" letter-spacing="3.4">****</text>
<line x1="1227.07" y1="631.36" x2="1280.43" y2="631.36" stroke="#000" stroke-width="2.0" />
<text x="1254.95" y="637.96" font-size="35" text-anchor="middle" letter-spacing="3.4">****</text>
<line x1="1341.5" y1="631.36" x2="1394.64" y2="631.36" stroke="#000" stroke-width="2.0" />
<text x="1369.27" y="637.96" font-size="35" text-anchor="middle" letter-spacing="3.4">****</text>
<line x1="1319.64" y1="604.36" x2="1372.78" y2="604.36" stroke="#000" stroke-width="2.0" />
<text x="1347.41" y="610.96" font-size="35" text-anchor="middle" letter-spacing="3.4">*</text>
<line x1="1453.64" y1="631.79" x2="1506.78" y2="631.79" stroke="#000" stroke-width="2.0" />
<text x="1481.41" y="638.39" font-size="35" text-anchor="middle" letter-spacing="3.4">****</text>
<line x1="1562.07" y1="631.79" x2="1615.43" y2="631.79" stroke="#000" stroke-width="2.0" />
<text x="1589.95" y="638.39" font-size="35" text-anchor="middle" letter-spacing="3.4">****</text>
<line x1="1673.93" y1="631.79" x2="1727.07" y2="631.79" stroke="#000" stroke-width="2.0" />
<text x="1701.7" y="638.39" font-size="35" text-anchor="middle" letter-spacing="3.4">****</text>
<line x1="794" y1="631.4" x2="847.1" y2="631.4" stroke="#000" stroke-width="2.0" />
<text x="821.75" y="638" font-size="35" text-anchor="middle" letter-spacing="3.4">****</text>
<line x1="903.3" y1="631.4" x2="956.4" y2="631.4" stroke="#000" stroke-width="2.0" />
<text x="931.05" y="638" font-size="35" text-anchor="middle" letter-spacing="3.4">****</text>
<line x1="1015.8" y1="631.4" x2="1068.9" y2="631.4" stroke="#000" stroke-width="2.0" />
<text x="1043.55" y="638" font-size="35" text-anchor="middle" letter-spacing="3.4">****</text>
<line x1="806.4" y1="934.3" x2="806.4" y2="946.8" stroke="#000" stroke-width="2.2" />
<text transform="translate(821.9 975.9) rotate(-45)" font-size="31.5" text-anchor="end">MD39_nohis1</text>
<line x1="915.75" y1="934.3" x2="915.75" y2="946.8" stroke="#000" stroke-width="2.2" />
<text transform="translate(931.25 975.9) rotate(-45)" font-size="31.5" text-anchor="end">MD39_nohis2</text>
<line x1="1025.1" y1="934.3" x2="1025.1" y2="946.8" stroke="#000" stroke-width="2.2" />
<text transform="translate(1040.6 975.9) rotate(-45)" font-size="31.5" text-anchor="end">MD39_nohis3</text>
<line x1="1134.45" y1="934.3" x2="1134.45" y2="946.8" stroke="#000" stroke-width="2.2" />
<text transform="translate(1149.95 975.9) rotate(-45)" font-size="31.5" text-anchor="end">MD39_nohis4</text>
<line x1="1243.8" y1="934.3" x2="1243.8" y2="946.8" stroke="#000" stroke-width="2.2" />
<text transform="translate(1259.3 975.9) rotate(-45)" font-size="31.5" text-anchor="end">MD39_nohis5</text>
<line x1="1353.15" y1="934.3" x2="1353.15" y2="946.8" stroke="#000" stroke-width="2.2" />
<text transform="translate(1368.65 975.9) rotate(-45)" font-size="31.5" text-anchor="end">MD39_nohis6</text>
<line x1="1462.5" y1="934.3" x2="1462.5" y2="946.8" stroke="#000" stroke-width="2.2" />
<text transform="translate(1478 975.9) rotate(-45)" font-size="31.5" text-anchor="end">MD39_nohis7</text>
<line x1="1571.85" y1="934.3" x2="1571.85" y2="946.8" stroke="#000" stroke-width="2.2" />
<text transform="translate(1587.35 975.9) rotate(-45)" font-size="31.5" text-anchor="end">MD39_nohis8</text>
<line x1="1681.2" y1="934.3" x2="1681.2" y2="946.8" stroke="#000" stroke-width="2.2" />
<text transform="translate(1696.7 975.9) rotate(-45)" font-size="31.5" text-anchor="end">MD39_nohis9</text>
<circle cx="723.7" cy="513.8" r="4.9" fill="#000000" stroke="#000" stroke-width="1.5"/>
<text x="757" y="522.6" font-size="27">MD39_linker-Ser<tspan dy="8.1" font-size="17.3">4</tspan><tspan dy="-8.1" dx="-1"> </tspan>+ alum, loading</text>
<circle cx="723.7" cy="556.7" r="4.9" fill="#A9ABAA" stroke="#000" stroke-width="1.5"/>
<text x="757" y="565.8" font-size="27">MD39_linker-Ser<tspan dy="8.1" font-size="17.3">4</tspan><tspan dy="-8.1" dx="-1"> </tspan>+ alum, 10% serum</text>
<circle cx="1246.8" cy="513.8" r="4.9" fill="#0433FF" stroke="#000" stroke-width="1.5"/>
<text x="1281" y="522.6" font-size="27">MD39_linker-pSer<tspan dy="8.1" font-size="17.3">4</tspan><tspan dy="-8.1" dx="-1"> </tspan>+ alum, loading</text>
<circle cx="1246.8" cy="563" r="4.9" fill="#FF2600" stroke="#000" stroke-width="1.5"/>
<text x="1281" y="572.1" font-size="27">MD39_linker-pSer<tspan dy="8.1" font-size="17.3">4</tspan><tspan dy="-8.1" dx="-1"> </tspan>+ alum, 10% serum</text>
<line x1="122.7" y1="1223" x2="122.7" y2="1598.1" stroke="#000" stroke-width="2.2" />
<line x1="107.7" y1="1598.1" x2="683.6" y2="1598.1" stroke="#000" stroke-width="2.2" />
<line x1="107.7" y1="1504.57" x2="122.7" y2="1504.57" stroke="#000" stroke-width="2.2" />
<line x1="107.7" y1="1411.05" x2="122.7" y2="1411.05" stroke="#000" stroke-width="2.2" />
<line x1="107.7" y1="1317.53" x2="122.7" y2="1317.53" stroke="#000" stroke-width="2.2" />
<line x1="107.7" y1="1224" x2="122.7" y2="1224" stroke="#000" stroke-width="2.2" />
<text x="101.4" y="1608.42" font-size="30" text-anchor="end" >0</text>
<text x="101.4" y="1514.89" font-size="30" text-anchor="end" >2</text>
<text x="101.4" y="1421.37" font-size="30" text-anchor="end" >4</text>
<text x="101.4" y="1327.85" font-size="30" text-anchor="end" >6</text>
<text x="101.4" y="1234.32" font-size="30" text-anchor="end" >8</text>
<text transform="translate(62.8 1410.05) rotate(-90)" font-size="30.5" text-anchor="middle">Integrated absorbance</text>
<text x="403.15" y="1175.5" font-size="35" text-anchor="middle" >V1/V2 apex</text>
<line x1="260.3" y1="1598.1" x2="260.3" y2="1613.1" stroke="#000" stroke-width="2.2" />
<text x="260.3" y="1646.1" font-size="28" text-anchor="middle" >PGT145</text>
<line x1="546" y1="1598.1" x2="546" y2="1613.1" stroke="#000" stroke-width="2.2" />
<text x="546" y="1646.1" font-size="28" text-anchor="middle" >PG9</text>
<rect x="132.23" y="1490" width="17.2" height="108.1" fill="#fff" stroke="#000" stroke-width="2.0"/>
<rect x="158.9" y="1467.86" width="17.2" height="130.24" fill="#fff" stroke="#000" stroke-width="2.0"/>
<rect x="185.69" y="1444.53" width="17.2" height="153.57" fill="#fff" stroke="#000" stroke-width="2.0"/>
<rect x="212.35" y="1428.58" width="17.2" height="169.52" fill="#fff" stroke="#000" stroke-width="2.0"/>
<rect x="239.38" y="1406.67" width="17.2" height="191.43" fill="#fff" stroke="#000" stroke-width="2.0"/>
<rect x="265.69" y="1479.29" width="17.2" height="118.81" fill="#fff" stroke="#000" stroke-width="2.0"/>
<rect x="292.47" y="1415.24" width="17.2" height="182.86" fill="#fff" stroke="#000" stroke-width="2.0"/>
<rect x="319.38" y="1499.29" width="17.2" height="98.81" fill="#fff" stroke="#000" stroke-width="2.0"/>
<rect x="345.92" y="1423.81" width="17.2" height="174.29" fill="#fff" stroke="#000" stroke-width="2.0"/>
<rect x="372.71" y="1584.05" width="17.2" height="14.05" fill="#fff" stroke="#000" stroke-width="2.0"/>
<rect x="417.11" y="1480.96" width="17.2" height="117.14" fill="#fff" stroke="#000" stroke-width="2.0"/>
<rect x="444.02" y="1450.48" width="17.2" height="147.62" fill="#fff" stroke="#000" stroke-width="2.0"/>
<rect x="470.69" y="1430.96" width="17.2" height="167.14" fill="#fff" stroke="#000" stroke-width="2.0"/>
<rect x="497.35" y="1428.58" width="17.2" height="169.52" fill="#fff" stroke="#000" stroke-width="2.0"/>
<rect x="524.26" y="1386.91" width="17.2" height="211.19" fill="#fff" stroke="#000" stroke-width="2.0"/>
<rect x="550.92" y="1460.24" width="17.2" height="137.86" fill="#fff" stroke="#000" stroke-width="2.0"/>
<rect x="577.59" y="1418.58" width="17.2" height="179.52" fill="#fff" stroke="#000" stroke-width="2.0"/>
<rect x="604.26" y="1477.62" width="17.2" height="120.48" fill="#fff" stroke="#000" stroke-width="2.0"/>
<rect x="631.16" y="1412.62" width="17.2" height="185.48" fill="#fff" stroke="#000" stroke-width="2.0"/>
<rect x="657.83" y="1561.43" width="17.2" height="36.67" fill="#fff" stroke="#000" stroke-width="2.0"/>
<line x1="140.83" y1="1381.67" x2="140.83" y2="1598.1" stroke="#000" stroke-width="2.0" />
<line x1="135.63" y1="1381.67" x2="146.03" y2="1381.67" stroke="#000" stroke-width="2.0" />
<line x1="135.63" y1="1598.1" x2="146.03" y2="1598.1" stroke="#000" stroke-width="2.0" />
<line x1="167.5" y1="1404.29" x2="167.5" y2="1530.96" stroke="#000" stroke-width="2.0" />
<line x1="162.3" y1="1404.29" x2="172.7" y2="1404.29" stroke="#000" stroke-width="2.0" />
<line x1="162.3" y1="1530.96" x2="172.7" y2="1530.96" stroke="#000" stroke-width="2.0" />
<line x1="194.29" y1="1392.39" x2="194.29" y2="1496.2" stroke="#000" stroke-width="2.0" />
<line x1="189.09" y1="1392.39" x2="199.49" y2="1392.39" stroke="#000" stroke-width="2.0" />
<line x1="189.09" y1="1496.2" x2="199.49" y2="1496.2" stroke="#000" stroke-width="2.0" />
<line x1="220.95" y1="1359.05" x2="220.95" y2="1496.67" stroke="#000" stroke-width="2.0" />
<line x1="215.75" y1="1359.05" x2="226.15" y2="1359.05" stroke="#000" stroke-width="2.0" />
<line x1="215.75" y1="1496.67" x2="226.15" y2="1496.67" stroke="#000" stroke-width="2.0" />
<line x1="247.98" y1="1357.62" x2="247.98" y2="1454.77" stroke="#000" stroke-width="2.0" />
<line x1="242.78" y1="1357.62" x2="253.18" y2="1357.62" stroke="#000" stroke-width="2.0" />
<line x1="242.78" y1="1454.77" x2="253.18" y2="1454.77" stroke="#000" stroke-width="2.0" />
<line x1="274.29" y1="1395.72" x2="274.29" y2="1562.86" stroke="#000" stroke-width="2.0" />
<line x1="269.09" y1="1395.72" x2="279.49" y2="1395.72" stroke="#000" stroke-width="2.0" />
<line x1="269.09" y1="1562.86" x2="279.49" y2="1562.86" stroke="#000" stroke-width="2.0" />
<line x1="301.07" y1="1333.81" x2="301.07" y2="1496.2" stroke="#000" stroke-width="2.0" />
<line x1="295.87" y1="1333.81" x2="306.27" y2="1333.81" stroke="#000" stroke-width="2.0" />
<line x1="295.87" y1="1496.2" x2="306.27" y2="1496.2" stroke="#000" stroke-width="2.0" />
<line x1="327.98" y1="1435.24" x2="327.98" y2="1563.1" stroke="#000" stroke-width="2.0" />
<line x1="322.78" y1="1435.24" x2="333.18" y2="1435.24" stroke="#000" stroke-width="2.0" />
<line x1="322.78" y1="1563.1" x2="333.18" y2="1563.1" stroke="#000" stroke-width="2.0" />
<line x1="354.52" y1="1347.15" x2="354.52" y2="1500.48" stroke="#000" stroke-width="2.0" />
<line x1="349.32" y1="1347.15" x2="359.72" y2="1347.15" stroke="#000" stroke-width="2.0" />
<line x1="349.32" y1="1500.48" x2="359.72" y2="1500.48" stroke="#000" stroke-width="2.0" />
<line x1="381.31" y1="1578.58" x2="381.31" y2="1589.29" stroke="#000" stroke-width="2.0" />
<line x1="376.11" y1="1578.58" x2="386.51" y2="1578.58" stroke="#000" stroke-width="2.0" />
<line x1="376.11" y1="1589.29" x2="386.51" y2="1589.29" stroke="#000" stroke-width="2.0" />
<line x1="425.71" y1="1394.53" x2="425.71" y2="1566.67" stroke="#000" stroke-width="2.0" />
<line x1="420.51" y1="1394.53" x2="430.91" y2="1394.53" stroke="#000" stroke-width="2.0" />
<line x1="420.51" y1="1566.67" x2="430.91" y2="1566.67" stroke="#000" stroke-width="2.0" />
<line x1="452.62" y1="1395.24" x2="452.62" y2="1505.24" stroke="#000" stroke-width="2.0" />
<line x1="447.42" y1="1395.24" x2="457.82" y2="1395.24" stroke="#000" stroke-width="2.0" />
<line x1="447.42" y1="1505.24" x2="457.82" y2="1505.24" stroke="#000" stroke-width="2.0" />
<line x1="479.29" y1="1389.29" x2="479.29" y2="1473.1" stroke="#000" stroke-width="2.0" />
<line x1="474.09" y1="1389.29" x2="484.49" y2="1389.29" stroke="#000" stroke-width="2.0" />
<line x1="474.09" y1="1473.1" x2="484.49" y2="1473.1" stroke="#000" stroke-width="2.0" />
<line x1="505.95" y1="1366.67" x2="505.95" y2="1490" stroke="#000" stroke-width="2.0" />
<line x1="500.75" y1="1366.67" x2="511.15" y2="1366.67" stroke="#000" stroke-width="2.0" />
<line x1="500.75" y1="1490" x2="511.15" y2="1490" stroke="#000" stroke-width="2.0" />
<line x1="532.86" y1="1327.39" x2="532.86" y2="1445.72" stroke="#000" stroke-width="2.0" />
<line x1="527.66" y1="1327.39" x2="538.06" y2="1327.39" stroke="#000" stroke-width="2.0" />
<line x1="527.66" y1="1445.72" x2="538.06" y2="1445.72" stroke="#000" stroke-width="2.0" />
<line x1="559.52" y1="1383.81" x2="559.52" y2="1536.91" stroke="#000" stroke-width="2.0" />
<line x1="554.32" y1="1383.81" x2="564.72" y2="1383.81" stroke="#000" stroke-width="2.0" />
<line x1="554.32" y1="1536.91" x2="564.72" y2="1536.91" stroke="#000" stroke-width="2.0" />
<line x1="586.19" y1="1335.72" x2="586.19" y2="1500.48" stroke="#000" stroke-width="2.0" />
<line x1="580.99" y1="1335.72" x2="591.39" y2="1335.72" stroke="#000" stroke-width="2.0" />
<line x1="580.99" y1="1500.48" x2="591.39" y2="1500.48" stroke="#000" stroke-width="2.0" />
<line x1="612.86" y1="1424.53" x2="612.86" y2="1530" stroke="#000" stroke-width="2.0" />
<line x1="607.66" y1="1424.53" x2="618.06" y2="1424.53" stroke="#000" stroke-width="2.0" />
<line x1="607.66" y1="1530" x2="618.06" y2="1530" stroke="#000" stroke-width="2.0" />
<line x1="639.76" y1="1355.48" x2="639.76" y2="1469.77" stroke="#000" stroke-width="2.0" />
<line x1="634.56" y1="1355.48" x2="644.96" y2="1355.48" stroke="#000" stroke-width="2.0" />
<line x1="634.56" y1="1469.77" x2="644.96" y2="1469.77" stroke="#000" stroke-width="2.0" />
<line x1="666.43" y1="1540" x2="666.43" y2="1582.39" stroke="#000" stroke-width="2.0" />
<line x1="661.23" y1="1540" x2="671.63" y2="1540" stroke="#000" stroke-width="2.0" />
<line x1="661.23" y1="1582.39" x2="671.63" y2="1582.39" stroke="#000" stroke-width="2.0" />
<circle cx="140.48" cy="1365.48" r="5.75" fill="#000000" stroke="#000" stroke-width="1.9"/>
<circle cx="140.48" cy="1544.53" r="5.75" fill="#000000" stroke="#000" stroke-width="1.9"/>
<circle cx="140.48" cy="1559.53" r="5.75" fill="#000000" stroke="#000" stroke-width="1.9"/>
<circle cx="167.14" cy="1395.72" r="5.75" fill="#7EC8E3" stroke="#000" stroke-width="1.9"/>
<circle cx="167.14" cy="1496.91" r="5.75" fill="#7EC8E3" stroke="#000" stroke-width="1.9"/>
<circle cx="167.14" cy="1511.91" r="5.75" fill="#7EC8E3" stroke="#000" stroke-width="1.9"/>
<circle cx="193.81" cy="1385" r="5.75" fill="#17847F" stroke="#000" stroke-width="1.9"/>
<circle cx="197.38" cy="1470.72" r="5.75" fill="#17847F" stroke="#000" stroke-width="1.9"/>
<circle cx="190.71" cy="1477.39" r="5.75" fill="#17847F" stroke="#000" stroke-width="1.9"/>
<circle cx="220.95" cy="1350.24" r="5.75" fill="#3B5597" stroke="#000" stroke-width="1.9"/>
<circle cx="220.95" cy="1455.96" r="5.75" fill="#3B5597" stroke="#000" stroke-width="1.9"/>
<circle cx="220.95" cy="1479.05" r="5.75" fill="#3B5597" stroke="#000" stroke-width="1.9"/>
<circle cx="247.62" cy="1350.48" r="5.75" fill="#0433FF" stroke="#000" stroke-width="1.9"/>
<circle cx="244.29" cy="1435.24" r="5.75" fill="#0433FF" stroke="#000" stroke-width="1.9"/>
<circle cx="250.95" cy="1434.05" r="5.75" fill="#0433FF" stroke="#000" stroke-width="1.9"/>
<circle cx="274.05" cy="1383.1" r="5.75" fill="#A9ABAA" stroke="#000" stroke-width="1.9"/>
<circle cx="270.71" cy="1528.58" r="5.75" fill="#A9ABAA" stroke="#000" stroke-width="1.9"/>
<circle cx="277.86" cy="1526.91" r="5.75" fill="#A9ABAA" stroke="#000" stroke-width="1.9"/>
<circle cx="300.95" cy="1321.43" r="5.75" fill="#F6CD7E" stroke="#000" stroke-width="1.9"/>
<circle cx="300.95" cy="1455.96" r="5.75" fill="#F6CD7E" stroke="#000" stroke-width="1.9"/>
<circle cx="300.95" cy="1468.34" r="5.75" fill="#F6CD7E" stroke="#000" stroke-width="1.9"/>
<circle cx="327.62" cy="1425.72" r="5.75" fill="#8B1A55" stroke="#000" stroke-width="1.9"/>
<circle cx="330.95" cy="1532.15" r="5.75" fill="#8B1A55" stroke="#000" stroke-width="1.9"/>
<circle cx="324.52" cy="1539.77" r="5.75" fill="#8B1A55" stroke="#000" stroke-width="1.9"/>
<circle cx="354.29" cy="1337.15" r="5.75" fill="#FF2600" stroke="#000" stroke-width="1.9"/>
<circle cx="354.29" cy="1451.2" r="5.75" fill="#FF2600" stroke="#000" stroke-width="1.9"/>
<circle cx="354.29" cy="1483.34" r="5.75" fill="#FF2600" stroke="#000" stroke-width="1.9"/>
<circle cx="381.19" cy="1578.58" r="5.75" fill="#FF9300" stroke="#000" stroke-width="1.9"/>
<circle cx="377.14" cy="1586.2" r="5.75" fill="#FF9300" stroke="#000" stroke-width="1.9"/>
<circle cx="385" cy="1583.81" r="5.75" fill="#FF9300" stroke="#000" stroke-width="1.9"/>
<circle cx="425.71" cy="1382.15" r="5.75" fill="#000000" stroke="#000" stroke-width="1.9"/>
<circle cx="425.71" cy="1519.53" r="5.75" fill="#000000" stroke="#000" stroke-width="1.9"/>
<circle cx="425.71" cy="1540" r="5.75" fill="#000000" stroke="#000" stroke-width="1.9"/>
<circle cx="452.62" cy="1387.62" r="5.75" fill="#7EC8E3" stroke="#000" stroke-width="1.9"/>
<circle cx="452.62" cy="1472.62" r="5.75" fill="#7EC8E3" stroke="#000" stroke-width="1.9"/>
<circle cx="452.62" cy="1490.48" r="5.75" fill="#7EC8E3" stroke="#000" stroke-width="1.9"/>
<circle cx="479.29" cy="1382.62" r="5.75" fill="#17847F" stroke="#000" stroke-width="1.9"/>
<circle cx="475.95" cy="1456.43" r="5.75" fill="#17847F" stroke="#000" stroke-width="1.9"/>
<circle cx="482.86" cy="1454.29" r="5.75" fill="#17847F" stroke="#000" stroke-width="1.9"/>
<circle cx="505.95" cy="1358.34" r="5.75" fill="#3B5597" stroke="#000" stroke-width="1.9"/>
<circle cx="505.95" cy="1451.2" r="5.75" fill="#3B5597" stroke="#000" stroke-width="1.9"/>
<circle cx="505.95" cy="1476.2" r="5.75" fill="#3B5597" stroke="#000" stroke-width="1.9"/>
<circle cx="532.86" cy="1318.1" r="5.75" fill="#0433FF" stroke="#000" stroke-width="1.9"/>
<circle cx="529.52" cy="1423.34" r="5.75" fill="#0433FF" stroke="#000" stroke-width="1.9"/>
<circle cx="536.43" cy="1418.1" r="5.75" fill="#0433FF" stroke="#000" stroke-width="1.9"/>
<circle cx="559.52" cy="1371.91" r="5.75" fill="#A9ABAA" stroke="#000" stroke-width="1.9"/>
<circle cx="562.86" cy="1499.29" r="5.75" fill="#A9ABAA" stroke="#000" stroke-width="1.9"/>
<circle cx="556.19" cy="1509.53" r="5.75" fill="#A9ABAA" stroke="#000" stroke-width="1.9"/>
<circle cx="586.19" cy="1325" r="5.75" fill="#F6CD7E" stroke="#000" stroke-width="1.9"/>
<circle cx="586.19" cy="1447.62" r="5.75" fill="#F6CD7E" stroke="#000" stroke-width="1.9"/>
<circle cx="586.19" cy="1482.15" r="5.75" fill="#F6CD7E" stroke="#000" stroke-width="1.9"/>
<circle cx="612.86" cy="1416.67" r="5.75" fill="#8B1A55" stroke="#000" stroke-width="1.9"/>
<circle cx="616.19" cy="1502.86" r="5.75" fill="#8B1A55" stroke="#000" stroke-width="1.9"/>
<circle cx="609.52" cy="1512.62" r="5.75" fill="#8B1A55" stroke="#000" stroke-width="1.9"/>
<circle cx="639.76" cy="1355.24" r="5.75" fill="#FF2600" stroke="#000" stroke-width="1.9"/>
<circle cx="639.76" cy="1415" r="5.75" fill="#FF2600" stroke="#000" stroke-width="1.9"/>
<circle cx="639.76" cy="1466.67" r="5.75" fill="#FF2600" stroke="#000" stroke-width="1.9"/>
<circle cx="666.43" cy="1536.91" r="5.75" fill="#FF9300" stroke="#000" stroke-width="1.9"/>
<circle cx="662.62" cy="1574.53" r="5.75" fill="#FF9300" stroke="#000" stroke-width="1.9"/>
<circle cx="669.76" cy="1571.43" r="5.75" fill="#FF9300" stroke="#000" stroke-width="1.9"/>
<line x1="776" y1="1224.8" x2="776" y2="1600.8" stroke="#000" stroke-width="2.2" />
<line x1="761" y1="1600.8" x2="1338.8" y2="1600.8" stroke="#000" stroke-width="2.2" />
<line x1="761" y1="1507.05" x2="776" y2="1507.05" stroke="#000" stroke-width="2.2" />
<line x1="761" y1="1413.3" x2="776" y2="1413.3" stroke="#000" stroke-width="2.2" />
<line x1="761" y1="1319.55" x2="776" y2="1319.55" stroke="#000" stroke-width="2.2" />
<line x1="761" y1="1225.8" x2="776" y2="1225.8" stroke="#000" stroke-width="2.2" />
<text x="754.4" y="1611.12" font-size="30" text-anchor="end" >0</text>
<text x="754.4" y="1517.37" font-size="30" text-anchor="end" >2</text>
<text x="754.4" y="1423.62" font-size="30" text-anchor="end" >4</text>
<text x="754.4" y="1329.87" font-size="30" text-anchor="end" >6</text>
<text x="754.4" y="1236.12" font-size="30" text-anchor="end" >8</text>
<text transform="translate(717.5 1414.9) rotate(-90)" font-size="30.5" text-anchor="middle">Integrated absorbance</text>
<text x="1057.4" y="1176.2" font-size="35" text-anchor="middle" >Interface/fusion peptide</text>
<line x1="913.8" y1="1600.8" x2="913.8" y2="1615.8" stroke="#000" stroke-width="2.2" />
<text x="913.8" y="1648.8" font-size="28" text-anchor="middle" >PGT151</text>
<line x1="1199.5" y1="1600.8" x2="1199.5" y2="1615.8" stroke="#000" stroke-width="2.2" />
<text x="1199.5" y="1648.8" font-size="28" text-anchor="middle" >35O22</text>
<rect x="785.45" y="1411.51" width="17.2" height="189.29" fill="#fff" stroke="#000" stroke-width="2.0"/>
<rect x="811.88" y="1340.8" width="17.2" height="260" fill="#fff" stroke="#000" stroke-width="2.0"/>
<rect x="838.78" y="1338.42" width="17.2" height="262.38" fill="#fff" stroke="#000" stroke-width="2.0"/>
<rect x="865.45" y="1329.61" width="17.2" height="271.19" fill="#fff" stroke="#000" stroke-width="2.0"/>
<rect x="892.35" y="1351.99" width="17.2" height="248.81" fill="#fff" stroke="#000" stroke-width="2.0"/>
<rect x="919.26" y="1355.8" width="17.2" height="245" fill="#fff" stroke="#000" stroke-width="2.0"/>
<rect x="945.92" y="1363.42" width="17.2" height="237.38" fill="#fff" stroke="#000" stroke-width="2.0"/>
<rect x="972.83" y="1367.47" width="17.2" height="233.33" fill="#fff" stroke="#000" stroke-width="2.0"/>
<rect x="999.5" y="1342.23" width="17.2" height="258.57" fill="#fff" stroke="#000" stroke-width="2.0"/>
<rect x="1026.4" y="1455.8" width="17.2" height="145" fill="#fff" stroke="#000" stroke-width="2.0"/>
<rect x="1070.69" y="1495.09" width="17.2" height="105.71" fill="#fff" stroke="#000" stroke-width="2.0"/>
<rect x="1097.59" y="1474.13" width="17.2" height="126.67" fill="#fff" stroke="#000" stroke-width="2.0"/>
<rect x="1124.26" y="1472.94" width="17.2" height="127.86" fill="#fff" stroke="#000" stroke-width="2.0"/>
<rect x="1151.16" y="1459.37" width="17.2" height="141.43" fill="#fff" stroke="#000" stroke-width="2.0"/>
<rect x="1177.83" y="1464.13" width="17.2" height="136.67" fill="#fff" stroke="#000" stroke-width="2.0"/>
<rect x="1204.73" y="1498.66" width="17.2" height="102.14" fill="#fff" stroke="#000" stroke-width="2.0"/>
<rect x="1231.4" y="1480.8" width="17.2" height="120" fill="#fff" stroke="#000" stroke-width="2.0"/>
<rect x="1258.3" y="1492.47" width="17.2" height="108.33" fill="#fff" stroke="#000" stroke-width="2.0"/>
<rect x="1284.97" y="1466.51" width="17.2" height="134.29" fill="#fff" stroke="#000" stroke-width="2.0"/>
<rect x="1311.88" y="1551.99" width="17.2" height="48.81" fill="#fff" stroke="#000" stroke-width="2.0"/>
<line x1="794.05" y1="1353.9" x2="794.05" y2="1468.9" stroke="#000" stroke-width="2.0" />
<line x1="788.85" y1="1353.9" x2="799.25" y2="1353.9" stroke="#000" stroke-width="2.0" />
<line x1="788.85" y1="1468.9" x2="799.25" y2="1468.9" stroke="#000" stroke-width="2.0" />
<line x1="820.48" y1="1306.28" x2="820.48" y2="1375.8" stroke="#000" stroke-width="2.0" />
<line x1="815.28" y1="1306.28" x2="825.68" y2="1306.28" stroke="#000" stroke-width="2.0" />
<line x1="815.28" y1="1375.8" x2="825.68" y2="1375.8" stroke="#000" stroke-width="2.0" />
<line x1="847.38" y1="1331.28" x2="847.38" y2="1345.56" stroke="#000" stroke-width="2.0" />
<line x1="842.18" y1="1331.28" x2="852.58" y2="1331.28" stroke="#000" stroke-width="2.0" />
<line x1="842.18" y1="1345.56" x2="852.58" y2="1345.56" stroke="#000" stroke-width="2.0" />
<line x1="874.05" y1="1299.85" x2="874.05" y2="1359.37" stroke="#000" stroke-width="2.0" />
<line x1="868.85" y1="1299.85" x2="879.25" y2="1299.85" stroke="#000" stroke-width="2.0" />
<line x1="868.85" y1="1359.37" x2="879.25" y2="1359.37" stroke="#000" stroke-width="2.0" />
<line x1="900.95" y1="1339.61" x2="900.95" y2="1364.61" stroke="#000" stroke-width="2.0" />
<line x1="895.75" y1="1339.61" x2="906.15" y2="1339.61" stroke="#000" stroke-width="2.0" />
<line x1="895.75" y1="1364.61" x2="906.15" y2="1364.61" stroke="#000" stroke-width="2.0" />
<line x1="927.86" y1="1311.75" x2="927.86" y2="1398.42" stroke="#000" stroke-width="2.0" />
<line x1="922.66" y1="1311.75" x2="933.06" y2="1311.75" stroke="#000" stroke-width="2.0" />
<line x1="922.66" y1="1398.42" x2="933.06" y2="1398.42" stroke="#000" stroke-width="2.0" />
<line x1="954.52" y1="1328.9" x2="954.52" y2="1396.04" stroke="#000" stroke-width="2.0" />
<line x1="949.32" y1="1328.9" x2="959.72" y2="1328.9" stroke="#000" stroke-width="2.0" />
<line x1="949.32" y1="1396.04" x2="959.72" y2="1396.04" stroke="#000" stroke-width="2.0" />
<line x1="981.43" y1="1336.04" x2="981.43" y2="1397.94" stroke="#000" stroke-width="2.0" />
<line x1="976.23" y1="1336.04" x2="986.63" y2="1336.04" stroke="#000" stroke-width="2.0" />
<line x1="976.23" y1="1397.94" x2="986.63" y2="1397.94" stroke="#000" stroke-width="2.0" />
<line x1="1008.1" y1="1311.04" x2="1008.1" y2="1374.13" stroke="#000" stroke-width="2.0" />
<line x1="1002.9" y1="1311.04" x2="1013.3" y2="1311.04" stroke="#000" stroke-width="2.0" />
<line x1="1002.9" y1="1374.13" x2="1013.3" y2="1374.13" stroke="#000" stroke-width="2.0" />
<line x1="1035" y1="1420.56" x2="1035" y2="1490.8" stroke="#000" stroke-width="2.0" />
<line x1="1029.8" y1="1420.56" x2="1040.2" y2="1420.56" stroke="#000" stroke-width="2.0" />
<line x1="1029.8" y1="1490.8" x2="1040.2" y2="1490.8" stroke="#000" stroke-width="2.0" />
<line x1="1079.29" y1="1445.56" x2="1079.29" y2="1543.18" stroke="#000" stroke-width="2.0" />
<line x1="1074.09" y1="1445.56" x2="1084.49" y2="1445.56" stroke="#000" stroke-width="2.0" />
<line x1="1074.09" y1="1543.18" x2="1084.49" y2="1543.18" stroke="#000" stroke-width="2.0" />
<line x1="1106.19" y1="1438.42" x2="1106.19" y2="1508.66" stroke="#000" stroke-width="2.0" />
<line x1="1100.99" y1="1438.42" x2="1111.39" y2="1438.42" stroke="#000" stroke-width="2.0" />
<line x1="1100.99" y1="1508.66" x2="1111.39" y2="1508.66" stroke="#000" stroke-width="2.0" />
<line x1="1132.86" y1="1450.32" x2="1132.86" y2="1494.37" stroke="#000" stroke-width="2.0" />
<line x1="1127.66" y1="1450.32" x2="1138.06" y2="1450.32" stroke="#000" stroke-width="2.0" />
<line x1="1127.66" y1="1494.37" x2="1138.06" y2="1494.37" stroke="#000" stroke-width="2.0" />
<line x1="1159.76" y1="1420.56" x2="1159.76" y2="1496.75" stroke="#000" stroke-width="2.0" />
<line x1="1154.56" y1="1420.56" x2="1164.96" y2="1420.56" stroke="#000" stroke-width="2.0" />
<line x1="1154.56" y1="1496.75" x2="1164.96" y2="1496.75" stroke="#000" stroke-width="2.0" />
<line x1="1186.43" y1="1440.8" x2="1186.43" y2="1486.04" stroke="#000" stroke-width="2.0" />
<line x1="1181.23" y1="1440.8" x2="1191.63" y2="1440.8" stroke="#000" stroke-width="2.0" />
<line x1="1181.23" y1="1486.04" x2="1191.63" y2="1486.04" stroke="#000" stroke-width="2.0" />
<line x1="1213.33" y1="1451.51" x2="1213.33" y2="1544.85" stroke="#000" stroke-width="2.0" />
<line x1="1208.13" y1="1451.51" x2="1218.53" y2="1451.51" stroke="#000" stroke-width="2.0" />
<line x1="1208.13" y1="1544.85" x2="1218.53" y2="1544.85" stroke="#000" stroke-width="2.0" />
<line x1="1240" y1="1447.94" x2="1240" y2="1511.75" stroke="#000" stroke-width="2.0" />
<line x1="1234.8" y1="1447.94" x2="1245.2" y2="1447.94" stroke="#000" stroke-width="2.0" />
<line x1="1234.8" y1="1511.75" x2="1245.2" y2="1511.75" stroke="#000" stroke-width="2.0" />
<line x1="1266.9" y1="1453.9" x2="1266.9" y2="1530.09" stroke="#000" stroke-width="2.0" />
<line x1="1261.7" y1="1453.9" x2="1272.1" y2="1453.9" stroke="#000" stroke-width="2.0" />
<line x1="1261.7" y1="1530.09" x2="1272.1" y2="1530.09" stroke="#000" stroke-width="2.0" />
<line x1="1293.57" y1="1437.23" x2="1293.57" y2="1496.75" stroke="#000" stroke-width="2.0" />
<line x1="1288.37" y1="1437.23" x2="1298.77" y2="1437.23" stroke="#000" stroke-width="2.0" />
<line x1="1288.37" y1="1496.75" x2="1298.77" y2="1496.75" stroke="#000" stroke-width="2.0" />
<line x1="1320.48" y1="1526.51" x2="1320.48" y2="1576.51" stroke="#000" stroke-width="2.0" />
<line x1="1315.28" y1="1526.51" x2="1325.68" y2="1526.51" stroke="#000" stroke-width="2.0" />
<line x1="1315.28" y1="1576.51" x2="1325.68" y2="1576.51" stroke="#000" stroke-width="2.0" />
<circle cx="793.57" cy="1344.61" r="5.75" fill="#000000" stroke="#000" stroke-width="1.9"/>
<circle cx="797.14" cy="1440.8" r="5.75" fill="#000000" stroke="#000" stroke-width="1.9"/>
<circle cx="790.24" cy="1448.66" r="5.75" fill="#000000" stroke="#000" stroke-width="1.9"/>
<circle cx="820.24" cy="1306.28" r="5.75" fill="#7EC8E3" stroke="#000" stroke-width="1.9"/>
<circle cx="820.24" cy="1340.8" r="5.75" fill="#7EC8E3" stroke="#000" stroke-width="1.9"/>
<circle cx="820.24" cy="1375.8" r="5.75" fill="#7EC8E3" stroke="#000" stroke-width="1.9"/>
<circle cx="847.38" cy="1327.7" r="5.75" fill="#17847F" stroke="#000" stroke-width="1.9"/>
<circle cx="843.81" cy="1337.94" r="5.75" fill="#17847F" stroke="#000" stroke-width="1.9"/>
<circle cx="850.95" cy="1337.7" r="5.75" fill="#17847F" stroke="#000" stroke-width="1.9"/>
<circle cx="870.48" cy="1308.66" r="5.75" fill="#3B5597" stroke="#000" stroke-width="1.9"/>
<circle cx="877.62" cy="1316.99" r="5.75" fill="#3B5597" stroke="#000" stroke-width="1.9"/>
<circle cx="874.05" cy="1363.42" r="5.75" fill="#3B5597" stroke="#000" stroke-width="1.9"/>
<circle cx="900.95" cy="1338.9" r="5.75" fill="#0433FF" stroke="#000" stroke-width="1.9"/>
<circle cx="904.52" cy="1354.61" r="5.75" fill="#0433FF" stroke="#000" stroke-width="1.9"/>
<circle cx="897.62" cy="1362.7" r="5.75" fill="#0433FF" stroke="#000" stroke-width="1.9"/>
<circle cx="927.62" cy="1305.32" r="5.75" fill="#A9ABAA" stroke="#000" stroke-width="1.9"/>
<circle cx="930.71" cy="1377.7" r="5.75" fill="#A9ABAA" stroke="#000" stroke-width="1.9"/>
<circle cx="924.05" cy="1383.18" r="5.75" fill="#A9ABAA" stroke="#000" stroke-width="1.9"/>
<circle cx="954.29" cy="1324.61" r="5.75" fill="#F6CD7E" stroke="#000" stroke-width="1.9"/>
<circle cx="957.62" cy="1379.37" r="5.75" fill="#F6CD7E" stroke="#000" stroke-width="1.9"/>
<circle cx="951.19" cy="1384.13" r="5.75" fill="#F6CD7E" stroke="#000" stroke-width="1.9"/>
<circle cx="981.19" cy="1335.32" r="5.75" fill="#8B1A55" stroke="#000" stroke-width="1.9"/>
<circle cx="981.19" cy="1371.75" r="5.75" fill="#8B1A55" stroke="#000" stroke-width="1.9"/>
<circle cx="981.19" cy="1395.56" r="5.75" fill="#8B1A55" stroke="#000" stroke-width="1.9"/>
<circle cx="1007.86" cy="1312.94" r="5.75" fill="#FF2600" stroke="#000" stroke-width="1.9"/>
<circle cx="1007.86" cy="1336.51" r="5.75" fill="#FF2600" stroke="#000" stroke-width="1.9"/>
<circle cx="1007.86" cy="1376.51" r="5.75" fill="#FF2600" stroke="#000" stroke-width="1.9"/>
<circle cx="1034.76" cy="1419.85" r="5.75" fill="#FF9300" stroke="#000" stroke-width="1.9"/>
<circle cx="1034.76" cy="1462.23" r="5.75" fill="#FF9300" stroke="#000" stroke-width="1.9"/>
<circle cx="1034.76" cy="1485.56" r="5.75" fill="#FF9300" stroke="#000" stroke-width="1.9"/>
<circle cx="1079.29" cy="1438.42" r="5.75" fill="#000000" stroke="#000" stroke-width="1.9"/>
<circle cx="1079.29" cy="1516.28" r="5.75" fill="#000000" stroke="#000" stroke-width="1.9"/>
<circle cx="1079.29" cy="1529.61" r="5.75" fill="#000000" stroke="#000" stroke-width="1.9"/>
<circle cx="1106.19" cy="1436.04" r="5.75" fill="#7EC8E3" stroke="#000" stroke-width="1.9"/>
<circle cx="1106.19" cy="1485.32" r="5.75" fill="#7EC8E3" stroke="#000" stroke-width="1.9"/>
<circle cx="1106.19" cy="1500.32" r="5.75" fill="#7EC8E3" stroke="#000" stroke-width="1.9"/>
<circle cx="1132.86" cy="1449.13" r="5.75" fill="#17847F" stroke="#000" stroke-width="1.9"/>
<circle cx="1136.43" cy="1481.99" r="5.75" fill="#17847F" stroke="#000" stroke-width="1.9"/>
<circle cx="1129.52" cy="1488.42" r="5.75" fill="#17847F" stroke="#000" stroke-width="1.9"/>
<circle cx="1159.76" cy="1416.28" r="5.75" fill="#3B5597" stroke="#000" stroke-width="1.9"/>
<circle cx="1163.1" cy="1476.99" r="5.75" fill="#3B5597" stroke="#000" stroke-width="1.9"/>
<circle cx="1156.43" cy="1484.85" r="5.75" fill="#3B5597" stroke="#000" stroke-width="1.9"/>
<circle cx="1186.43" cy="1439.13" r="5.75" fill="#0433FF" stroke="#000" stroke-width="1.9"/>
<circle cx="1190" cy="1475.8" r="5.75" fill="#0433FF" stroke="#000" stroke-width="1.9"/>
<circle cx="1183.57" cy="1478.9" r="5.75" fill="#0433FF" stroke="#000" stroke-width="1.9"/>
<circle cx="1213.33" cy="1445.56" r="5.75" fill="#A9ABAA" stroke="#000" stroke-width="1.9"/>
<circle cx="1216.67" cy="1519.85" r="5.75" fill="#A9ABAA" stroke="#000" stroke-width="1.9"/>
<circle cx="1210.48" cy="1530.56" r="5.75" fill="#A9ABAA" stroke="#000" stroke-width="1.9"/>
<circle cx="1240" cy="1445.09" r="5.75" fill="#F6CD7E" stroke="#000" stroke-width="1.9"/>
<circle cx="1243.33" cy="1496.04" r="5.75" fill="#F6CD7E" stroke="#000" stroke-width="1.9"/>
<circle cx="1236.67" cy="1501.51" r="5.75" fill="#F6CD7E" stroke="#000" stroke-width="1.9"/>
<circle cx="1266.9" cy="1448.42" r="5.75" fill="#8B1A55" stroke="#000" stroke-width="1.9"/>
<circle cx="1270.24" cy="1510.32" r="5.75" fill="#8B1A55" stroke="#000" stroke-width="1.9"/>
<circle cx="1263.81" cy="1517.7" r="5.75" fill="#8B1A55" stroke="#000" stroke-width="1.9"/>
<circle cx="1293.57" cy="1435.56" r="5.75" fill="#FF2600" stroke="#000" stroke-width="1.9"/>
<circle cx="1293.57" cy="1472.23" r="5.75" fill="#FF2600" stroke="#000" stroke-width="1.9"/>
<circle cx="1293.57" cy="1492.7" r="5.75" fill="#FF2600" stroke="#000" stroke-width="1.9"/>
<circle cx="1320.48" cy="1523.66" r="5.75" fill="#FF9300" stroke="#000" stroke-width="1.9"/>
<circle cx="1323.81" cy="1562.23" r="5.75" fill="#FF9300" stroke="#000" stroke-width="1.9"/>
<circle cx="1317.14" cy="1570.09" r="5.75" fill="#FF9300" stroke="#000" stroke-width="1.9"/>
<line x1="795" y1="1272.47" x2="878.1" y2="1272.47" stroke="#000" stroke-width="2.1" />
<text x="836.94" y="1277.67" font-size="35" text-anchor="middle" letter-spacing="3.4">*</text>
<line x1="1445.1" y1="1224.8" x2="1445.1" y2="1600.8" stroke="#000" stroke-width="2.2" />
<line x1="1430.1" y1="1600.8" x2="1725.7" y2="1600.8" stroke="#000" stroke-width="2.2" />
<line x1="1430.1" y1="1507.05" x2="1445.1" y2="1507.05" stroke="#000" stroke-width="2.2" />
<line x1="1430.1" y1="1413.3" x2="1445.1" y2="1413.3" stroke="#000" stroke-width="2.2" />
<line x1="1430.1" y1="1319.55" x2="1445.1" y2="1319.55" stroke="#000" stroke-width="2.2" />
<line x1="1430.1" y1="1225.8" x2="1445.1" y2="1225.8" stroke="#000" stroke-width="2.2" />
<text x="1423.9" y="1611.12" font-size="30" text-anchor="end" >0</text>
<text x="1423.9" y="1517.37" font-size="30" text-anchor="end" >2</text>
<text x="1423.9" y="1423.62" font-size="30" text-anchor="end" >4</text>
<text x="1423.9" y="1329.87" font-size="30" text-anchor="end" >6</text>
<text x="1423.9" y="1236.12" font-size="30" text-anchor="end" >8</text>
<text transform="translate(1386.9 1415.2) rotate(-90)" font-size="30.5" text-anchor="middle">Integrated absorbance</text>
<text x="1585.4" y="1176.2" font-size="35" text-anchor="middle" >V3, neutralizing</text>
<line x1="1585.2" y1="1600.8" x2="1585.2" y2="1615.8" stroke="#000" stroke-width="2.2" />
<text x="1585.2" y="1648.8" font-size="28" text-anchor="middle" >PGT121</text>
<rect x="1454.43" y="1435.32" width="17.8" height="165.48" fill="#fff" stroke="#000" stroke-width="2.0"/>
<rect x="1481.58" y="1400.32" width="17.8" height="200.48" fill="#fff" stroke="#000" stroke-width="2.0"/>
<rect x="1508.96" y="1393.9" width="17.8" height="206.9" fill="#fff" stroke="#000" stroke-width="2.0"/>
<rect x="1536.1" y="1386.04" width="17.8" height="214.76" fill="#fff" stroke="#000" stroke-width="2.0"/>
<rect x="1563.24" y="1371.04" width="17.8" height="229.76" fill="#fff" stroke="#000" stroke-width="2.0"/>
<rect x="1590.39" y="1413.9" width="17.8" height="186.9" fill="#fff" stroke="#000" stroke-width="2.0"/>
<rect x="1617.29" y="1402.23" width="17.8" height="198.57" fill="#fff" stroke="#000" stroke-width="2.0"/>
<rect x="1644.67" y="1428.18" width="17.8" height="172.62" fill="#fff" stroke="#000" stroke-width="2.0"/>
<rect x="1671.81" y="1387.7" width="17.8" height="213.1" fill="#fff" stroke="#000" stroke-width="2.0"/>
<rect x="1699.2" y="1491.28" width="17.8" height="109.52" fill="#fff" stroke="#000" stroke-width="2.0"/>
<line x1="1463.33" y1="1355.09" x2="1463.33" y2="1514.61" stroke="#000" stroke-width="2.0" />
<line x1="1458.13" y1="1355.09" x2="1468.53" y2="1355.09" stroke="#000" stroke-width="2.0" />
<line x1="1458.13" y1="1514.61" x2="1468.53" y2="1514.61" stroke="#000" stroke-width="2.0" />
<line x1="1490.48" y1="1332.94" x2="1490.48" y2="1465.8" stroke="#000" stroke-width="2.0" />
<line x1="1485.28" y1="1332.94" x2="1495.68" y2="1332.94" stroke="#000" stroke-width="2.0" />
<line x1="1485.28" y1="1465.8" x2="1495.68" y2="1465.8" stroke="#000" stroke-width="2.0" />
<line x1="1517.86" y1="1350.8" x2="1517.86" y2="1436.04" stroke="#000" stroke-width="2.0" />
<line x1="1512.66" y1="1350.8" x2="1523.06" y2="1350.8" stroke="#000" stroke-width="2.0" />
<line x1="1512.66" y1="1436.04" x2="1523.06" y2="1436.04" stroke="#000" stroke-width="2.0" />
<line x1="1545" y1="1326.51" x2="1545" y2="1444.37" stroke="#000" stroke-width="2.0" />
<line x1="1539.8" y1="1326.51" x2="1550.2" y2="1326.51" stroke="#000" stroke-width="2.0" />
<line x1="1539.8" y1="1444.37" x2="1550.2" y2="1444.37" stroke="#000" stroke-width="2.0" />
<line x1="1572.14" y1="1311.04" x2="1572.14" y2="1429.37" stroke="#000" stroke-width="2.0" />
<line x1="1566.94" y1="1311.04" x2="1577.34" y2="1311.04" stroke="#000" stroke-width="2.0" />
<line x1="1566.94" y1="1429.37" x2="1577.34" y2="1429.37" stroke="#000" stroke-width="2.0" />
<line x1="1599.29" y1="1334.37" x2="1599.29" y2="1491.99" stroke="#000" stroke-width="2.0" />
<line x1="1594.09" y1="1334.37" x2="1604.49" y2="1334.37" stroke="#000" stroke-width="2.0" />
<line x1="1594.09" y1="1491.99" x2="1604.49" y2="1491.99" stroke="#000" stroke-width="2.0" />
<line x1="1626.19" y1="1325.32" x2="1626.19" y2="1477.7" stroke="#000" stroke-width="2.0" />
<line x1="1620.99" y1="1325.32" x2="1631.39" y2="1325.32" stroke="#000" stroke-width="2.0" />
<line x1="1620.99" y1="1477.7" x2="1631.39" y2="1477.7" stroke="#000" stroke-width="2.0" />
<line x1="1653.57" y1="1371.04" x2="1653.57" y2="1483.66" stroke="#000" stroke-width="2.0" />
<line x1="1648.37" y1="1371.04" x2="1658.77" y2="1371.04" stroke="#000" stroke-width="2.0" />
<line x1="1648.37" y1="1483.66" x2="1658.77" y2="1483.66" stroke="#000" stroke-width="2.0" />
<line x1="1680.71" y1="1338.42" x2="1680.71" y2="1437.23" stroke="#000" stroke-width="2.0" />
<line x1="1675.51" y1="1338.42" x2="1685.91" y2="1338.42" stroke="#000" stroke-width="2.0" />
<line x1="1675.51" y1="1437.23" x2="1685.91" y2="1437.23" stroke="#000" stroke-width="2.0" />
<line x1="1708.1" y1="1433.66" x2="1708.1" y2="1547.23" stroke="#000" stroke-width="2.0" />
<line x1="1702.9" y1="1433.66" x2="1713.3" y2="1433.66" stroke="#000" stroke-width="2.0" />
<line x1="1702.9" y1="1547.23" x2="1713.3" y2="1547.23" stroke="#000" stroke-width="2.0" />
<circle cx="1463.1" cy="1342.7" r="5.75" fill="#000000" stroke="#000" stroke-width="1.9"/>
<circle cx="1466.67" cy="1479.37" r="5.75" fill="#000000" stroke="#000" stroke-width="1.9"/>
<circle cx="1459.52" cy="1482.47" r="5.75" fill="#000000" stroke="#000" stroke-width="1.9"/>
<circle cx="1490.24" cy="1323.66" r="5.75" fill="#7EC8E3" stroke="#000" stroke-width="1.9"/>
<circle cx="1490.24" cy="1425.32" r="5.75" fill="#7EC8E3" stroke="#000" stroke-width="1.9"/>
<circle cx="1490.24" cy="1449.61" r="5.75" fill="#7EC8E3" stroke="#000" stroke-width="1.9"/>
<circle cx="1517.62" cy="1344.37" r="5.75" fill="#17847F" stroke="#000" stroke-width="1.9"/>
<circle cx="1520.95" cy="1416.28" r="5.75" fill="#17847F" stroke="#000" stroke-width="1.9"/>
<circle cx="1514.29" cy="1419.37" r="5.75" fill="#17847F" stroke="#000" stroke-width="1.9"/>
<circle cx="1544.76" cy="1321.28" r="5.75" fill="#3B5597" stroke="#000" stroke-width="1.9"/>
<circle cx="1544.76" cy="1399.13" r="5.75" fill="#3B5597" stroke="#000" stroke-width="1.9"/>
<circle cx="1544.76" cy="1436.51" r="5.75" fill="#3B5597" stroke="#000" stroke-width="1.9"/>
<circle cx="1571.9" cy="1302.23" r="5.75" fill="#0433FF" stroke="#000" stroke-width="1.9"/>
<circle cx="1575.24" cy="1403.42" r="5.75" fill="#0433FF" stroke="#000" stroke-width="1.9"/>
<circle cx="1568.57" cy="1405.56" r="5.75" fill="#0433FF" stroke="#000" stroke-width="1.9"/>
<circle cx="1599.05" cy="1322.47" r="5.75" fill="#A9ABAA" stroke="#000" stroke-width="1.9"/>
<circle cx="1602.38" cy="1457.47" r="5.75" fill="#A9ABAA" stroke="#000" stroke-width="1.9"/>
<circle cx="1595.71" cy="1460.32" r="5.75" fill="#A9ABAA" stroke="#000" stroke-width="1.9"/>
<circle cx="1626.19" cy="1314.13" r="5.75" fill="#F6CD7E" stroke="#000" stroke-width="1.9"/>
<circle cx="1626.19" cy="1436.75" r="5.75" fill="#F6CD7E" stroke="#000" stroke-width="1.9"/>
<circle cx="1626.19" cy="1453.18" r="5.75" fill="#F6CD7E" stroke="#000" stroke-width="1.9"/>
<circle cx="1653.33" cy="1362.94" r="5.75" fill="#8B1A55" stroke="#000" stroke-width="1.9"/>
<circle cx="1653.33" cy="1453.42" r="5.75" fill="#8B1A55" stroke="#000" stroke-width="1.9"/>
<circle cx="1653.33" cy="1465.8" r="5.75" fill="#8B1A55" stroke="#000" stroke-width="1.9"/>
<circle cx="1680.71" cy="1336.28" r="5.75" fill="#FF2600" stroke="#000" stroke-width="1.9"/>
<circle cx="1680.71" cy="1390.32" r="5.75" fill="#FF2600" stroke="#000" stroke-width="1.9"/>
<circle cx="1680.71" cy="1435.56" r="5.75" fill="#FF2600" stroke="#000" stroke-width="1.9"/>
<circle cx="1707.86" cy="1424.85" r="5.75" fill="#FF9300" stroke="#000" stroke-width="1.9"/>
<circle cx="1711.19" cy="1518.18" r="5.75" fill="#FF9300" stroke="#000" stroke-width="1.9"/>
<circle cx="1704.52" cy="1528.18" r="5.75" fill="#FF9300" stroke="#000" stroke-width="1.9"/>
<line x1="117.2" y1="1817.1" x2="117.2" y2="2192.8" stroke="#000" stroke-width="2.2" />
<line x1="102.2" y1="2192.8" x2="679.5" y2="2192.8" stroke="#000" stroke-width="2.2" />
<line x1="102.2" y1="2099.12" x2="117.2" y2="2099.12" stroke="#000" stroke-width="2.2" />
<line x1="102.2" y1="2005.45" x2="117.2" y2="2005.45" stroke="#000" stroke-width="2.2" />
<line x1="102.2" y1="1911.78" x2="117.2" y2="1911.78" stroke="#000" stroke-width="2.2" />
<line x1="102.2" y1="1818.1" x2="117.2" y2="1818.1" stroke="#000" stroke-width="2.2" />
<text x="96.1" y="2203.12" font-size="30" text-anchor="end" >0</text>
<text x="96.1" y="2109.45" font-size="30" text-anchor="end" >2</text>
<text x="96.1" y="2015.77" font-size="30" text-anchor="end" >4</text>
<text x="96.1" y="1922.1" font-size="30" text-anchor="end" >6</text>
<text x="96.1" y="1828.42" font-size="30" text-anchor="end" >8</text>
<text transform="translate(58.6 2006.35) rotate(-90)" font-size="30.5" text-anchor="middle">Integrated absorbance</text>
<text x="398.35" y="1770.2" font-size="35" text-anchor="middle" >V3 loop, non-neutralizing</text>
<line x1="255.7" y1="2192.8" x2="255.7" y2="2207.8" stroke="#000" stroke-width="2.2" />
<text x="255.7" y="2240.8" font-size="28" text-anchor="middle" >3074</text>
<line x1="541.2" y1="2192.8" x2="541.2" y2="2207.8" stroke="#000" stroke-width="2.2" />
<text x="541.2" y="2240.8" font-size="28" text-anchor="middle" >4025</text>
<rect x="126.88" y="2127.56" width="17.2" height="65.24" fill="#fff" stroke="#000" stroke-width="2.0"/>
<rect x="153.3" y="2158.99" width="17.2" height="33.81" fill="#fff" stroke="#000" stroke-width="2.0"/>
<rect x="180.45" y="2140.42" width="17.2" height="52.38" fill="#fff" stroke="#000" stroke-width="2.0"/>
<rect x="207.11" y="2149.47" width="17.2" height="43.33" fill="#fff" stroke="#000" stroke-width="2.0"/>
<rect x="234.02" y="2143.51" width="17.2" height="49.29" fill="#fff" stroke="#000" stroke-width="2.0"/>
<rect x="260.45" y="2158.51" width="17.2" height="34.29" fill="#fff" stroke="#000" stroke-width="2.0"/>
<rect x="287.35" y="2151.85" width="17.2" height="40.95" fill="#fff" stroke="#000" stroke-width="2.0"/>
<rect x="314.02" y="2161.37" width="17.2" height="31.43" fill="#fff" stroke="#000" stroke-width="2.0"/>
<rect x="340.92" y="2144.7" width="17.2" height="48.1" fill="#fff" stroke="#000" stroke-width="2.0"/>
<rect x="367.83" y="2154.23" width="17.2" height="38.57" fill="#fff" stroke="#000" stroke-width="2.0"/>
<rect x="412.35" y="2139.23" width="17.2" height="53.57" fill="#fff" stroke="#000" stroke-width="2.0"/>
<rect x="439.26" y="2157.32" width="17.2" height="35.48" fill="#fff" stroke="#000" stroke-width="2.0"/>
<rect x="465.92" y="2147.8" width="17.2" height="45" fill="#fff" stroke="#000" stroke-width="2.0"/>
<rect x="492.83" y="2154.94" width="17.2" height="37.86" fill="#fff" stroke="#000" stroke-width="2.0"/>
<rect x="519.5" y="2149.47" width="17.2" height="43.33" fill="#fff" stroke="#000" stroke-width="2.0"/>
<rect x="546.4" y="2159.7" width="17.2" height="33.1" fill="#fff" stroke="#000" stroke-width="2.0"/>
<rect x="573.3" y="2156.61" width="17.2" height="36.19" fill="#fff" stroke="#000" stroke-width="2.0"/>
<rect x="599.97" y="2166.61" width="17.2" height="26.19" fill="#fff" stroke="#000" stroke-width="2.0"/>
<rect x="626.64" y="2152.56" width="17.2" height="40.24" fill="#fff" stroke="#000" stroke-width="2.0"/>
<rect x="653.54" y="2161.37" width="17.2" height="31.43" fill="#fff" stroke="#000" stroke-width="2.0"/>
<line x1="135.48" y1="2111.37" x2="135.48" y2="2144.7" stroke="#000" stroke-width="2.0" />
<line x1="130.28" y1="2111.37" x2="140.68" y2="2111.37" stroke="#000" stroke-width="2.0" />
<line x1="130.28" y1="2144.7" x2="140.68" y2="2144.7" stroke="#000" stroke-width="2.0" />
<line x1="161.9" y1="2154.23" x2="161.9" y2="2163.75" stroke="#000" stroke-width="2.0" />
<line x1="156.7" y1="2154.23" x2="167.1" y2="2154.23" stroke="#000" stroke-width="2.0" />
<line x1="156.7" y1="2163.75" x2="167.1" y2="2163.75" stroke="#000" stroke-width="2.0" />
<line x1="189.05" y1="2137.56" x2="189.05" y2="2143.51" stroke="#000" stroke-width="2.0" />
<line x1="183.85" y1="2137.56" x2="194.25" y2="2137.56" stroke="#000" stroke-width="2.0" />
<line x1="183.85" y1="2143.51" x2="194.25" y2="2143.51" stroke="#000" stroke-width="2.0" />
<line x1="215.71" y1="2139.94" x2="215.71" y2="2158.99" stroke="#000" stroke-width="2.0" />
<line x1="210.51" y1="2139.94" x2="220.91" y2="2139.94" stroke="#000" stroke-width="2.0" />
<line x1="210.51" y1="2158.99" x2="220.91" y2="2158.99" stroke="#000" stroke-width="2.0" />
<line x1="242.62" y1="2141.13" x2="242.62" y2="2145.9" stroke="#000" stroke-width="2.0" />
<line x1="237.42" y1="2141.13" x2="247.82" y2="2141.13" stroke="#000" stroke-width="2.0" />
<line x1="237.42" y1="2145.9" x2="247.82" y2="2145.9" stroke="#000" stroke-width="2.0" />
<line x1="269.05" y1="2154.23" x2="269.05" y2="2162.56" stroke="#000" stroke-width="2.0" />
<line x1="263.85" y1="2154.23" x2="274.25" y2="2154.23" stroke="#000" stroke-width="2.0" />
<line x1="263.85" y1="2162.56" x2="274.25" y2="2162.56" stroke="#000" stroke-width="2.0" />
<line x1="295.95" y1="2142.32" x2="295.95" y2="2161.37" stroke="#000" stroke-width="2.0" />
<line x1="290.75" y1="2142.32" x2="301.15" y2="2142.32" stroke="#000" stroke-width="2.0" />
<line x1="290.75" y1="2161.37" x2="301.15" y2="2161.37" stroke="#000" stroke-width="2.0" />
<line x1="322.62" y1="2153.04" x2="322.62" y2="2169.7" stroke="#000" stroke-width="2.0" />
<line x1="317.42" y1="2153.04" x2="327.82" y2="2153.04" stroke="#000" stroke-width="2.0" />
<line x1="317.42" y1="2169.7" x2="327.82" y2="2169.7" stroke="#000" stroke-width="2.0" />
<line x1="349.52" y1="2139.94" x2="349.52" y2="2149.47" stroke="#000" stroke-width="2.0" />
<line x1="344.32" y1="2139.94" x2="354.72" y2="2139.94" stroke="#000" stroke-width="2.0" />
<line x1="344.32" y1="2149.47" x2="354.72" y2="2149.47" stroke="#000" stroke-width="2.0" />
<line x1="376.43" y1="2142.32" x2="376.43" y2="2166.13" stroke="#000" stroke-width="2.0" />
<line x1="371.23" y1="2142.32" x2="381.63" y2="2142.32" stroke="#000" stroke-width="2.0" />
<line x1="371.23" y1="2166.13" x2="381.63" y2="2166.13" stroke="#000" stroke-width="2.0" />
<line x1="420.95" y1="2122.09" x2="420.95" y2="2156.61" stroke="#000" stroke-width="2.0" />
<line x1="415.75" y1="2122.09" x2="426.15" y2="2122.09" stroke="#000" stroke-width="2.0" />
<line x1="415.75" y1="2156.61" x2="426.15" y2="2156.61" stroke="#000" stroke-width="2.0" />
<line x1="447.86" y1="2150.66" x2="447.86" y2="2164.94" stroke="#000" stroke-width="2.0" />
<line x1="442.66" y1="2150.66" x2="453.06" y2="2150.66" stroke="#000" stroke-width="2.0" />
<line x1="442.66" y1="2164.94" x2="453.06" y2="2164.94" stroke="#000" stroke-width="2.0" />
<line x1="474.52" y1="2142.32" x2="474.52" y2="2154.23" stroke="#000" stroke-width="2.0" />
<line x1="469.32" y1="2142.32" x2="479.72" y2="2142.32" stroke="#000" stroke-width="2.0" />
<line x1="469.32" y1="2154.23" x2="479.72" y2="2154.23" stroke="#000" stroke-width="2.0" />
<line x1="501.43" y1="2142.32" x2="501.43" y2="2167.32" stroke="#000" stroke-width="2.0" />
<line x1="496.23" y1="2142.32" x2="506.63" y2="2142.32" stroke="#000" stroke-width="2.0" />
<line x1="496.23" y1="2167.32" x2="506.63" y2="2167.32" stroke="#000" stroke-width="2.0" />
<line x1="528.1" y1="2144.7" x2="528.1" y2="2154.23" stroke="#000" stroke-width="2.0" />
<line x1="522.9" y1="2144.7" x2="533.3" y2="2144.7" stroke="#000" stroke-width="2.0" />
<line x1="522.9" y1="2154.23" x2="533.3" y2="2154.23" stroke="#000" stroke-width="2.0" />
<line x1="555" y1="2154.23" x2="555" y2="2165.66" stroke="#000" stroke-width="2.0" />
<line x1="549.8" y1="2154.23" x2="560.2" y2="2154.23" stroke="#000" stroke-width="2.0" />
<line x1="549.8" y1="2165.66" x2="560.2" y2="2165.66" stroke="#000" stroke-width="2.0" />
<line x1="581.9" y1="2149.47" x2="581.9" y2="2163.75" stroke="#000" stroke-width="2.0" />
<line x1="576.7" y1="2149.47" x2="587.1" y2="2149.47" stroke="#000" stroke-width="2.0" />
<line x1="576.7" y1="2163.75" x2="587.1" y2="2163.75" stroke="#000" stroke-width="2.0" />
<line x1="608.57" y1="2157.8" x2="608.57" y2="2174.47" stroke="#000" stroke-width="2.0" />
<line x1="603.37" y1="2157.8" x2="613.77" y2="2157.8" stroke="#000" stroke-width="2.0" />
<line x1="603.37" y1="2174.47" x2="613.77" y2="2174.47" stroke="#000" stroke-width="2.0" />
<line x1="635.24" y1="2145.9" x2="635.24" y2="2158.99" stroke="#000" stroke-width="2.0" />
<line x1="630.04" y1="2145.9" x2="640.44" y2="2145.9" stroke="#000" stroke-width="2.0" />
<line x1="630.04" y1="2158.99" x2="640.44" y2="2158.99" stroke="#000" stroke-width="2.0" />
<line x1="662.14" y1="2153.04" x2="662.14" y2="2169.7" stroke="#000" stroke-width="2.0" />
<line x1="656.94" y1="2153.04" x2="667.34" y2="2153.04" stroke="#000" stroke-width="2.0" />
<line x1="656.94" y1="2169.7" x2="667.34" y2="2169.7" stroke="#000" stroke-width="2.0" />
<circle cx="131.9" cy="2114.23" r="5.75" fill="#000000" stroke="#000" stroke-width="1.9"/>
<circle cx="139.05" cy="2122.09" r="5.75" fill="#000000" stroke="#000" stroke-width="1.9"/>
<circle cx="135.48" cy="2146.37" r="5.75" fill="#000000" stroke="#000" stroke-width="1.9"/>
<circle cx="161.9" cy="2156.13" r="5.75" fill="#7EC8E3" stroke="#000" stroke-width="1.9"/>
<circle cx="165.24" cy="2157.8" r="5.75" fill="#7EC8E3" stroke="#000" stroke-width="1.9"/>
<circle cx="158.57" cy="2163.75" r="5.75" fill="#7EC8E3" stroke="#000" stroke-width="1.9"/>
<circle cx="189.05" cy="2139.94" r="5.75" fill="#17847F" stroke="#000" stroke-width="1.9"/>
<circle cx="191.9" cy="2140.42" r="5.75" fill="#17847F" stroke="#000" stroke-width="1.9"/>
<circle cx="185.48" cy="2144.7" r="5.75" fill="#17847F" stroke="#000" stroke-width="1.9"/>
<circle cx="215.24" cy="2139.23" r="5.75" fill="#3B5597" stroke="#000" stroke-width="1.9"/>
<circle cx="219.29" cy="2153.51" r="5.75" fill="#3B5597" stroke="#000" stroke-width="1.9"/>
<circle cx="211.67" cy="2155.9" r="5.75" fill="#3B5597" stroke="#000" stroke-width="1.9"/>
<circle cx="241.9" cy="2141.85" r="5.75" fill="#0433FF" stroke="#000" stroke-width="1.9"/>
<circle cx="245.71" cy="2144.23" r="5.75" fill="#0433FF" stroke="#000" stroke-width="1.9"/>
<circle cx="238.57" cy="2144.7" r="5.75" fill="#0433FF" stroke="#000" stroke-width="1.9"/>
<circle cx="269.05" cy="2151.85" r="5.75" fill="#A9ABAA" stroke="#000" stroke-width="1.9"/>
<circle cx="272.38" cy="2155.42" r="5.75" fill="#A9ABAA" stroke="#000" stroke-width="1.9"/>
<circle cx="265.71" cy="2159.7" r="5.75" fill="#A9ABAA" stroke="#000" stroke-width="1.9"/>
<circle cx="295.48" cy="2141.13" r="5.75" fill="#F6CD7E" stroke="#000" stroke-width="1.9"/>
<circle cx="299.05" cy="2154.23" r="5.75" fill="#F6CD7E" stroke="#000" stroke-width="1.9"/>
<circle cx="292.14" cy="2158.51" r="5.75" fill="#F6CD7E" stroke="#000" stroke-width="1.9"/>
<circle cx="319.29" cy="2153.51" r="5.75" fill="#8B1A55" stroke="#000" stroke-width="1.9"/>
<circle cx="325.95" cy="2162.09" r="5.75" fill="#8B1A55" stroke="#000" stroke-width="1.9"/>
<circle cx="320" cy="2168.99" r="5.75" fill="#8B1A55" stroke="#000" stroke-width="1.9"/>
<circle cx="349.05" cy="2138.75" r="5.75" fill="#FF2600" stroke="#000" stroke-width="1.9"/>
<circle cx="352.62" cy="2145.18" r="5.75" fill="#FF2600" stroke="#000" stroke-width="1.9"/>
<circle cx="345.48" cy="2147.09" r="5.75" fill="#FF2600" stroke="#000" stroke-width="1.9"/>
<circle cx="376.19" cy="2142.32" r="5.75" fill="#FF9300" stroke="#000" stroke-width="1.9"/>
<circle cx="376.19" cy="2154.23" r="5.75" fill="#FF9300" stroke="#000" stroke-width="1.9"/>
<circle cx="376.19" cy="2166.13" r="5.75" fill="#FF9300" stroke="#000" stroke-width="1.9"/>
<circle cx="420.71" cy="2120.18" r="5.75" fill="#000000" stroke="#000" stroke-width="1.9"/>
<circle cx="420.71" cy="2140.42" r="5.75" fill="#000000" stroke="#000" stroke-width="1.9"/>
<circle cx="420.71" cy="2155.9" r="5.75" fill="#000000" stroke="#000" stroke-width="1.9"/>
<circle cx="444.29" cy="2152.32" r="5.75" fill="#7EC8E3" stroke="#000" stroke-width="1.9"/>
<circle cx="451.43" cy="2153.04" r="5.75" fill="#7EC8E3" stroke="#000" stroke-width="1.9"/>
<circle cx="447.86" cy="2166.61" r="5.75" fill="#7EC8E3" stroke="#000" stroke-width="1.9"/>
<circle cx="471.19" cy="2142.32" r="5.75" fill="#17847F" stroke="#000" stroke-width="1.9"/>
<circle cx="477.62" cy="2149.47" r="5.75" fill="#17847F" stroke="#000" stroke-width="1.9"/>
<circle cx="471.19" cy="2155.42" r="5.75" fill="#17847F" stroke="#000" stroke-width="1.9"/>
<circle cx="500.95" cy="2140.66" r="5.75" fill="#3B5597" stroke="#000" stroke-width="1.9"/>
<circle cx="497.86" cy="2161.37" r="5.75" fill="#3B5597" stroke="#000" stroke-width="1.9"/>
<circle cx="504.52" cy="2161.37" r="5.75" fill="#3B5597" stroke="#000" stroke-width="1.9"/>
<circle cx="528.1" cy="2144.23" r="5.75" fill="#0433FF" stroke="#000" stroke-width="1.9"/>
<circle cx="531.43" cy="2151.37" r="5.75" fill="#0433FF" stroke="#000" stroke-width="1.9"/>
<circle cx="524.52" cy="2152.32" r="5.75" fill="#0433FF" stroke="#000" stroke-width="1.9"/>
<circle cx="555" cy="2154.7" r="5.75" fill="#A9ABAA" stroke="#000" stroke-width="1.9"/>
<circle cx="558.1" cy="2157.09" r="5.75" fill="#A9ABAA" stroke="#000" stroke-width="1.9"/>
<circle cx="551.9" cy="2165.42" r="5.75" fill="#A9ABAA" stroke="#000" stroke-width="1.9"/>
<circle cx="578.33" cy="2149.47" r="5.75" fill="#F6CD7E" stroke="#000" stroke-width="1.9"/>
<circle cx="584.76" cy="2159.7" r="5.75" fill="#F6CD7E" stroke="#000" stroke-width="1.9"/>
<circle cx="578.81" cy="2161.37" r="5.75" fill="#F6CD7E" stroke="#000" stroke-width="1.9"/>
<circle cx="608.57" cy="2155.9" r="5.75" fill="#8B1A55" stroke="#000" stroke-width="1.9"/>
<circle cx="612.14" cy="2168.04" r="5.75" fill="#8B1A55" stroke="#000" stroke-width="1.9"/>
<circle cx="605" cy="2172.56" r="5.75" fill="#8B1A55" stroke="#000" stroke-width="1.9"/>
<circle cx="632.38" cy="2145.42" r="5.75" fill="#FF2600" stroke="#000" stroke-width="1.9"/>
<circle cx="638.81" cy="2152.56" r="5.75" fill="#FF2600" stroke="#000" stroke-width="1.9"/>
<circle cx="632.38" cy="2157.09" r="5.75" fill="#FF2600" stroke="#000" stroke-width="1.9"/>
<circle cx="658.57" cy="2153.04" r="5.75" fill="#FF9300" stroke="#000" stroke-width="1.9"/>
<circle cx="665.24" cy="2159.47" r="5.75" fill="#FF9300" stroke="#000" stroke-width="1.9"/>
<circle cx="659.05" cy="2169.7" r="5.75" fill="#FF9300" stroke="#000" stroke-width="1.9"/>
<line x1="135" y1="2080.42" x2="168.81" y2="2080.42" stroke="#000" stroke-width="2.1" />
<text x="153.37" y="2082.02" font-size="35" text-anchor="middle" letter-spacing="3.4">**</text>
<line x1="133.81" y1="2040.18" x2="217.14" y2="2040.18" stroke="#000" stroke-width="2.1" />
<text x="175.99" y="2045.68" font-size="35" text-anchor="middle" letter-spacing="3.4">*</text>
<line x1="135.95" y1="2008.51" x2="273.1" y2="2008.51" stroke="#000" stroke-width="2.1" />
<text x="198.37" y="2016.81" font-size="35" text-anchor="middle" letter-spacing="3.4">**</text>
<line x1="136.67" y1="1976.85" x2="301.67" y2="1976.85" stroke="#000" stroke-width="2.1" />
<text x="226.94" y="1981.65" font-size="35" text-anchor="middle" letter-spacing="3.4">*</text>
<line x1="139.05" y1="1944.7" x2="321.67" y2="1944.7" stroke="#000" stroke-width="2.1" />
<text x="230.51" y="1952.1" font-size="35" text-anchor="middle" letter-spacing="3.4">***</text>
<line x1="138.33" y1="1916.37" x2="377.62" y2="1916.37" stroke="#000" stroke-width="2.1" />
<text x="256.94" y="1921.87" font-size="35" text-anchor="middle" letter-spacing="3.4">**</text>
<line x1="424.05" y1="2004.94" x2="670.48" y2="2004.94" stroke="#000" stroke-width="2.1" />
<text x="542.41" y="2008.34" font-size="35" text-anchor="middle" letter-spacing="3.4">*</text>
<line x1="424.05" y1="2044.94" x2="614.52" y2="2044.94" stroke="#000" stroke-width="2.1" />
<text x="514.56" y="2047.99" font-size="35" text-anchor="middle" letter-spacing="3.4">*</text>
<line x1="893.8" y1="1820.7" x2="893.8" y2="2197.6" stroke="#000" stroke-width="2.2" />
<line x1="878.8" y1="2197.6" x2="1174.3" y2="2197.6" stroke="#000" stroke-width="2.2" />
<line x1="878.8" y1="2103.62" x2="893.8" y2="2103.62" stroke="#000" stroke-width="2.2" />
<line x1="878.8" y1="2009.65" x2="893.8" y2="2009.65" stroke="#000" stroke-width="2.2" />
<line x1="878.8" y1="1915.67" x2="893.8" y2="1915.67" stroke="#000" stroke-width="2.2" />
<line x1="878.8" y1="1821.7" x2="893.8" y2="1821.7" stroke="#000" stroke-width="2.2" />
<text x="871.8" y="2207.92" font-size="30" text-anchor="end" >0</text>
<text x="871.8" y="2113.95" font-size="30" text-anchor="end" >2</text>
<text x="871.8" y="2019.97" font-size="30" text-anchor="end" >4</text>
<text x="871.8" y="1925.99" font-size="30" text-anchor="end" >6</text>
<text x="871.8" y="1832.02" font-size="30" text-anchor="end" >8</text>
<text transform="translate(834.8 2008.65) rotate(-90)" font-size="30.5" text-anchor="middle">Integrated absorbance</text>
<text x="1034.05" y="1774.2" font-size="35" text-anchor="middle" >Base</text>
<line x1="1033.6" y1="2197.6" x2="1033.6" y2="2212.6" stroke="#000" stroke-width="2.2" />
<text x="1033.6" y="2245.6" font-size="28" text-anchor="middle" >RM19R</text>
<rect x="902.77" y="2101.17" width="17.8" height="96.43" fill="#fff" stroke="#000" stroke-width="2.0"/>
<rect x="929.91" y="2095.46" width="17.8" height="102.14" fill="#fff" stroke="#000" stroke-width="2.0"/>
<rect x="957.29" y="2102.36" width="17.8" height="95.24" fill="#fff" stroke="#000" stroke-width="2.0"/>
<rect x="984.43" y="2103.55" width="17.8" height="94.05" fill="#fff" stroke="#000" stroke-width="2.0"/>
<rect x="1011.58" y="2137.12" width="17.8" height="60.48" fill="#fff" stroke="#000" stroke-width="2.0"/>
<rect x="1038.96" y="2120.46" width="17.8" height="77.14" fill="#fff" stroke="#000" stroke-width="2.0"/>
<rect x="1066.1" y="2137.12" width="17.8" height="60.48" fill="#fff" stroke="#000" stroke-width="2.0"/>
<rect x="1093.48" y="2116.17" width="17.8" height="81.43" fill="#fff" stroke="#000" stroke-width="2.0"/>
<rect x="1120.39" y="2122.12" width="17.8" height="75.48" fill="#fff" stroke="#000" stroke-width="2.0"/>
<rect x="1147.53" y="2141.89" width="17.8" height="55.71" fill="#fff" stroke="#000" stroke-width="2.0"/>
<line x1="911.67" y1="2084.03" x2="911.67" y2="2118.55" stroke="#000" stroke-width="2.0" />
<line x1="906.47" y1="2084.03" x2="916.87" y2="2084.03" stroke="#000" stroke-width="2.0" />
<line x1="906.47" y1="2118.55" x2="916.87" y2="2118.55" stroke="#000" stroke-width="2.0" />
<line x1="938.81" y1="2089.5" x2="938.81" y2="2100.7" stroke="#000" stroke-width="2.0" />
<line x1="933.61" y1="2089.5" x2="944.01" y2="2089.5" stroke="#000" stroke-width="2.0" />
<line x1="933.61" y1="2100.7" x2="944.01" y2="2100.7" stroke="#000" stroke-width="2.0" />
<line x1="966.19" y1="2090.46" x2="966.19" y2="2113.79" stroke="#000" stroke-width="2.0" />
<line x1="960.99" y1="2090.46" x2="971.39" y2="2090.46" stroke="#000" stroke-width="2.0" />
<line x1="960.99" y1="2113.79" x2="971.39" y2="2113.79" stroke="#000" stroke-width="2.0" />
<line x1="993.33" y1="2099.03" x2="993.33" y2="2107.84" stroke="#000" stroke-width="2.0" />
<line x1="988.13" y1="2099.03" x2="998.53" y2="2099.03" stroke="#000" stroke-width="2.0" />
<line x1="988.13" y1="2107.84" x2="998.53" y2="2107.84" stroke="#000" stroke-width="2.0" />
<line x1="1020.48" y1="2132.84" x2="1020.48" y2="2137.6" stroke="#000" stroke-width="2.0" />
<line x1="1015.28" y1="2132.84" x2="1025.68" y2="2132.84" stroke="#000" stroke-width="2.0" />
<line x1="1015.28" y1="2137.6" x2="1025.68" y2="2137.6" stroke="#000" stroke-width="2.0" />
<line x1="1047.86" y1="2114.98" x2="1047.86" y2="2121.41" stroke="#000" stroke-width="2.0" />
<line x1="1042.66" y1="2114.98" x2="1053.06" y2="2114.98" stroke="#000" stroke-width="2.0" />
<line x1="1042.66" y1="2121.41" x2="1053.06" y2="2121.41" stroke="#000" stroke-width="2.0" />
<line x1="1075" y1="2132.36" x2="1075" y2="2136.41" stroke="#000" stroke-width="2.0" />
<line x1="1069.8" y1="2132.36" x2="1080.2" y2="2132.36" stroke="#000" stroke-width="2.0" />
<line x1="1069.8" y1="2136.41" x2="1080.2" y2="2136.41" stroke="#000" stroke-width="2.0" />
<line x1="1102.38" y1="2109.03" x2="1102.38" y2="2116.17" stroke="#000" stroke-width="2.0" />
<line x1="1097.18" y1="2109.03" x2="1107.58" y2="2109.03" stroke="#000" stroke-width="2.0" />
<line x1="1097.18" y1="2116.17" x2="1107.58" y2="2116.17" stroke="#000" stroke-width="2.0" />
<line x1="1129.29" y1="2113.79" x2="1129.29" y2="2124.5" stroke="#000" stroke-width="2.0" />
<line x1="1124.09" y1="2113.79" x2="1134.49" y2="2113.79" stroke="#000" stroke-width="2.0" />
<line x1="1124.09" y1="2124.5" x2="1134.49" y2="2124.5" stroke="#000" stroke-width="2.0" />
<line x1="1156.43" y1="2134.5" x2="1156.43" y2="2142.36" stroke="#000" stroke-width="2.0" />
<line x1="1151.23" y1="2134.5" x2="1161.63" y2="2134.5" stroke="#000" stroke-width="2.0" />
<line x1="1151.23" y1="2142.36" x2="1161.63" y2="2142.36" stroke="#000" stroke-width="2.0" />
<circle cx="911.67" cy="2083.31" r="5.75" fill="#000000" stroke="#000" stroke-width="1.9"/>
<circle cx="911.67" cy="2102.6" r="5.75" fill="#000000" stroke="#000" stroke-width="1.9"/>
<circle cx="911.67" cy="2117.36" r="5.75" fill="#000000" stroke="#000" stroke-width="1.9"/>
<circle cx="938.81" cy="2088.31" r="5.75" fill="#7EC8E3" stroke="#000" stroke-width="1.9"/>
<circle cx="935.24" cy="2098.31" r="5.75" fill="#7EC8E3" stroke="#000" stroke-width="1.9"/>
<circle cx="942.38" cy="2097.12" r="5.75" fill="#7EC8E3" stroke="#000" stroke-width="1.9"/>
<circle cx="966.19" cy="2089.27" r="5.75" fill="#17847F" stroke="#000" stroke-width="1.9"/>
<circle cx="969.76" cy="2104.27" r="5.75" fill="#17847F" stroke="#000" stroke-width="1.9"/>
<circle cx="962.62" cy="2111.89" r="5.75" fill="#17847F" stroke="#000" stroke-width="1.9"/>
<circle cx="993.33" cy="2100.22" r="5.75" fill="#3B5597" stroke="#000" stroke-width="1.9"/>
<circle cx="997.14" cy="2101.17" r="5.75" fill="#3B5597" stroke="#000" stroke-width="1.9"/>
<circle cx="989.52" cy="2107.12" r="5.75" fill="#3B5597" stroke="#000" stroke-width="1.9"/>
<circle cx="1020.48" cy="2132.12" r="5.75" fill="#0433FF" stroke="#000" stroke-width="1.9"/>
<circle cx="1024.05" cy="2134.03" r="5.75" fill="#0433FF" stroke="#000" stroke-width="1.9"/>
<circle cx="1016.9" cy="2136.41" r="5.75" fill="#0433FF" stroke="#000" stroke-width="1.9"/>
<circle cx="1047.38" cy="2114.5" r="5.75" fill="#A9ABAA" stroke="#000" stroke-width="1.9"/>
<circle cx="1050.95" cy="2118.55" r="5.75" fill="#A9ABAA" stroke="#000" stroke-width="1.9"/>
<circle cx="1043.81" cy="2120.46" r="5.75" fill="#A9ABAA" stroke="#000" stroke-width="1.9"/>
<circle cx="1074.76" cy="2132.36" r="5.75" fill="#F6CD7E" stroke="#000" stroke-width="1.9"/>
<circle cx="1078.1" cy="2134.5" r="5.75" fill="#F6CD7E" stroke="#000" stroke-width="1.9"/>
<circle cx="1071.43" cy="2135.7" r="5.75" fill="#F6CD7E" stroke="#000" stroke-width="1.9"/>
<circle cx="1102.14" cy="2108.31" r="5.75" fill="#8B1A55" stroke="#000" stroke-width="1.9"/>
<circle cx="1105.48" cy="2113.08" r="5.75" fill="#8B1A55" stroke="#000" stroke-width="1.9"/>
<circle cx="1098.57" cy="2115.46" r="5.75" fill="#8B1A55" stroke="#000" stroke-width="1.9"/>
<circle cx="1129.05" cy="2113.08" r="5.75" fill="#FF2600" stroke="#000" stroke-width="1.9"/>
<circle cx="1132.86" cy="2120.46" r="5.75" fill="#FF2600" stroke="#000" stroke-width="1.9"/>
<circle cx="1125.24" cy="2123.31" r="5.75" fill="#FF2600" stroke="#000" stroke-width="1.9"/>
<circle cx="1156.19" cy="2134.03" r="5.75" fill="#FF9300" stroke="#000" stroke-width="1.9"/>
<circle cx="1159.76" cy="2138.08" r="5.75" fill="#FF9300" stroke="#000" stroke-width="1.9"/>
<circle cx="1152.62" cy="2141.89" r="5.75" fill="#FF9300" stroke="#000" stroke-width="1.9"/>
<line x1="913.33" y1="2051.17" x2="1023.33" y2="2051.17" stroke="#000" stroke-width="2.1" />
<text x="969.8" y="2057.17" font-size="35" text-anchor="middle" letter-spacing="3.4">***</text>
<line x1="913.81" y1="2019.98" x2="1079.52" y2="2019.98" stroke="#000" stroke-width="2.1" />
<text x="994.8" y="2028.28" font-size="35" text-anchor="middle" letter-spacing="3.4">***</text>
<line x1="912.86" y1="1989.27" x2="1131.9" y2="1989.27" stroke="#000" stroke-width="2.1" />
<text x="1020.51" y="1997.37" font-size="35" text-anchor="middle" letter-spacing="3.4">*</text>
<line x1="915.71" y1="1956.65" x2="1163.81" y2="1956.65" stroke="#000" stroke-width="2.1" />
<text x="1040.51" y="1964.25" font-size="35" text-anchor="middle" letter-spacing="3.4">****</text>
<circle cx="1316.1" cy="1730" r="5.6" fill="#000000" stroke="#000" stroke-width="1.5"/>
<text x="1359" y="1738.9" font-size="33">MD39_his-pSer<tspan dy="10.5" font-size="21" dx="5">4</tspan></text>
<circle cx="1316.1" cy="1782.5" r="5.6" fill="#7EC8E3" stroke="#000" stroke-width="1.5"/>
<text x="1359" y="1791.8" font-size="33">MD39_nohis1-pSer<tspan dy="10.5" font-size="21">4</tspan></text>
<circle cx="1316.1" cy="1835" r="5.6" fill="#17847F" stroke="#000" stroke-width="1.5"/>
<text x="1359" y="1844.3" font-size="33">MD39_nohis2-pSer<tspan dy="10.5" font-size="21">4</tspan></text>
<circle cx="1316.1" cy="1895.4" r="5.6" fill="#3B5597" stroke="#000" stroke-width="1.5"/>
<text x="1359" y="1905" font-size="33">MD39_nohis3-pSer<tspan dy="10.5" font-size="21">4</tspan></text>
<circle cx="1316.1" cy="1955.7" r="5.6" fill="#0433FF" stroke="#000" stroke-width="1.5"/>
<text x="1359" y="1964.6" font-size="33">MD39_nohis4-pSer<tspan dy="10.5" font-size="21">4</tspan></text>
<circle cx="1316.1" cy="2015.7" r="5.6" fill="#A9ABAA" stroke="#000" stroke-width="1.5"/>
<text x="1359" y="2025.4" font-size="33">MD39_nohis5-pSer<tspan dy="10.5" font-size="21">4</tspan></text>
<circle cx="1316.1" cy="2076.4" r="5.6" fill="#F6CD7E" stroke="#000" stroke-width="1.5"/>
<text x="1359" y="2085.4" font-size="33">MD39_nohis6-pSer<tspan dy="10.5" font-size="21">4</tspan></text>
<circle cx="1316.1" cy="2136.4" r="5.6" fill="#8B1A55" stroke="#000" stroke-width="1.5"/>
<text x="1359" y="2146.1" font-size="33">MD39_nohis7-pSer<tspan dy="10.5" font-size="21">4</tspan></text>
<circle cx="1316.1" cy="2196.8" r="5.6" fill="#FF2600" stroke="#000" stroke-width="1.5"/>
<text x="1359" y="2206.1" font-size="33">MD39_nohis8-pSer<tspan dy="10.5" font-size="21">4</tspan></text>
<circle cx="1316.1" cy="2257.5" r="5.6" fill="#FF9300" stroke="#000" stroke-width="1.5"/>
<text x="1359" y="2266.8" font-size="33">MD39_nohis9-pSer<tspan dy="10.5" font-size="21">4</tspan></text>
</svg>
</body></html>
